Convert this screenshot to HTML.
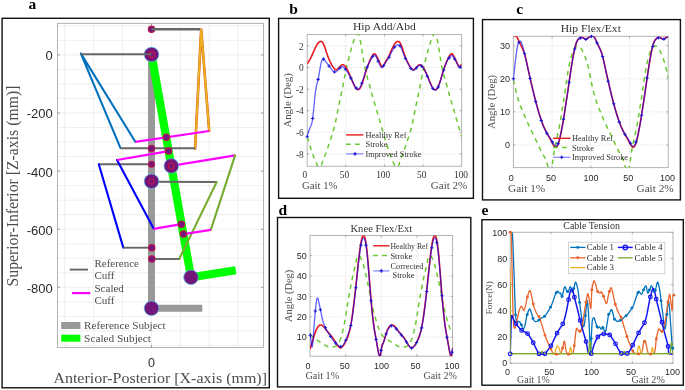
<!DOCTYPE html>
<html><head><meta charset="utf-8"><style>html,body{margin:0;padding:0;background:#fff;width:685px;height:390px;overflow:hidden}svg{display:block;will-change:transform}</style></head>
<body><svg width="685" height="390" viewBox="0 0 685 390"><rect x="2.1" y="18.3" width="267.2" height="369.5" fill="none" stroke="#111" stroke-width="1.4"/>
<rect x="278.6" y="18.4" width="194.79999999999995" height="179.9" fill="none" stroke="#111" stroke-width="1.4"/>
<rect x="482.5" y="19.6" width="197.89999999999998" height="180.3" fill="none" stroke="#111" stroke-width="1.4"/>
<rect x="277.5" y="217.5" width="193.3" height="169.39999999999998" fill="none" stroke="#111" stroke-width="1.4"/>
<rect x="481.9" y="219.7" width="201.39999999999998" height="165.5" fill="none" stroke="#111" stroke-width="1.4"/>
<text x="28.6" y="9.2" font-family='"Liberation Serif", serif' font-size="15.5" text-anchor="start" font-weight="bold" fill="#000">a</text>
<text x="289.2" y="13.8" font-family='"Liberation Serif", serif' font-size="15.5" text-anchor="start" font-weight="bold" fill="#000">b</text>
<text x="516.3" y="13.9" font-family='"Liberation Serif", serif' font-size="15.5" text-anchor="start" font-weight="bold" fill="#000">c</text>
<text x="278.4" y="215.4" font-family='"Liberation Serif", serif' font-size="15.5" text-anchor="start" font-weight="bold" fill="#000">d</text>
<text x="481.5" y="215.4" font-family='"Liberation Serif", serif' font-size="15.5" text-anchor="start" font-weight="bold" fill="#000">e</text>
<line x1="57.50" y1="25.85" x2="263.50" y2="25.85" stroke="#ebebeb" stroke-width="0.8"/>
<line x1="57.50" y1="40.38" x2="263.50" y2="40.38" stroke="#ebebeb" stroke-width="0.8"/>
<line x1="57.50" y1="54.90" x2="263.50" y2="54.90" stroke="#ebebeb" stroke-width="0.8"/>
<line x1="57.50" y1="69.42" x2="263.50" y2="69.42" stroke="#ebebeb" stroke-width="0.8"/>
<line x1="57.50" y1="83.95" x2="263.50" y2="83.95" stroke="#ebebeb" stroke-width="0.8"/>
<line x1="57.50" y1="98.47" x2="263.50" y2="98.47" stroke="#ebebeb" stroke-width="0.8"/>
<line x1="57.50" y1="113.00" x2="263.50" y2="113.00" stroke="#ebebeb" stroke-width="0.8"/>
<line x1="57.50" y1="127.53" x2="263.50" y2="127.53" stroke="#ebebeb" stroke-width="0.8"/>
<line x1="57.50" y1="142.05" x2="263.50" y2="142.05" stroke="#ebebeb" stroke-width="0.8"/>
<line x1="57.50" y1="156.57" x2="263.50" y2="156.57" stroke="#ebebeb" stroke-width="0.8"/>
<line x1="57.50" y1="171.10" x2="263.50" y2="171.10" stroke="#ebebeb" stroke-width="0.8"/>
<line x1="57.50" y1="185.62" x2="263.50" y2="185.62" stroke="#ebebeb" stroke-width="0.8"/>
<line x1="57.50" y1="200.15" x2="263.50" y2="200.15" stroke="#ebebeb" stroke-width="0.8"/>
<line x1="57.50" y1="214.67" x2="263.50" y2="214.67" stroke="#ebebeb" stroke-width="0.8"/>
<line x1="57.50" y1="229.20" x2="263.50" y2="229.20" stroke="#ebebeb" stroke-width="0.8"/>
<line x1="57.50" y1="243.72" x2="263.50" y2="243.72" stroke="#ebebeb" stroke-width="0.8"/>
<line x1="57.50" y1="258.25" x2="263.50" y2="258.25" stroke="#ebebeb" stroke-width="0.8"/>
<line x1="57.50" y1="272.77" x2="263.50" y2="272.77" stroke="#ebebeb" stroke-width="0.8"/>
<line x1="57.50" y1="287.30" x2="263.50" y2="287.30" stroke="#ebebeb" stroke-width="0.8"/>
<line x1="57.50" y1="301.82" x2="263.50" y2="301.82" stroke="#ebebeb" stroke-width="0.8"/>
<line x1="57.50" y1="316.35" x2="263.50" y2="316.35" stroke="#ebebeb" stroke-width="0.8"/>
<line x1="57.50" y1="330.87" x2="263.50" y2="330.87" stroke="#ebebeb" stroke-width="0.8"/>
<line x1="57.50" y1="345.40" x2="263.50" y2="345.40" stroke="#ebebeb" stroke-width="0.8"/>
<line x1="64.80" y1="23.40" x2="64.80" y2="347.50" stroke="#ebebeb" stroke-width="0.8"/>
<line x1="93.70" y1="23.40" x2="93.70" y2="347.50" stroke="#ebebeb" stroke-width="0.8"/>
<line x1="122.60" y1="23.40" x2="122.60" y2="347.50" stroke="#ebebeb" stroke-width="0.8"/>
<line x1="151.50" y1="23.40" x2="151.50" y2="347.50" stroke="#ebebeb" stroke-width="0.8"/>
<line x1="180.40" y1="23.40" x2="180.40" y2="347.50" stroke="#ebebeb" stroke-width="0.8"/>
<line x1="209.30" y1="23.40" x2="209.30" y2="347.50" stroke="#ebebeb" stroke-width="0.8"/>
<line x1="238.20" y1="23.40" x2="238.20" y2="347.50" stroke="#ebebeb" stroke-width="0.8"/>
<rect x="57.5" y="23.4" width="206.0" height="324.1" fill="none" stroke="#b4b4b4" stroke-width="1.0"/>
<line x1="57.50" y1="54.90" x2="60.00" y2="54.90" stroke="#888" stroke-width="0.8"/>
<line x1="263.50" y1="54.90" x2="261.00" y2="54.90" stroke="#888" stroke-width="0.8"/>
<text x="52.8" y="60.3" font-family='"Liberation Sans", sans-serif' font-size="13" text-anchor="end" font-weight="normal" fill="#2a2a2a">0</text>
<line x1="57.50" y1="113.00" x2="60.00" y2="113.00" stroke="#888" stroke-width="0.8"/>
<line x1="263.50" y1="113.00" x2="261.00" y2="113.00" stroke="#888" stroke-width="0.8"/>
<text x="52.8" y="118.4" font-family='"Liberation Sans", sans-serif' font-size="13" text-anchor="end" font-weight="normal" fill="#2a2a2a">-200</text>
<line x1="57.50" y1="171.10" x2="60.00" y2="171.10" stroke="#888" stroke-width="0.8"/>
<line x1="263.50" y1="171.10" x2="261.00" y2="171.10" stroke="#888" stroke-width="0.8"/>
<text x="52.8" y="176.5" font-family='"Liberation Sans", sans-serif' font-size="13" text-anchor="end" font-weight="normal" fill="#2a2a2a">-400</text>
<line x1="57.50" y1="229.20" x2="60.00" y2="229.20" stroke="#888" stroke-width="0.8"/>
<line x1="263.50" y1="229.20" x2="261.00" y2="229.20" stroke="#888" stroke-width="0.8"/>
<text x="52.8" y="234.6" font-family='"Liberation Sans", sans-serif' font-size="13" text-anchor="end" font-weight="normal" fill="#2a2a2a">-600</text>
<line x1="57.50" y1="287.30" x2="60.00" y2="287.30" stroke="#888" stroke-width="0.8"/>
<line x1="263.50" y1="287.30" x2="261.00" y2="287.30" stroke="#888" stroke-width="0.8"/>
<text x="52.8" y="292.69999999999993" font-family='"Liberation Sans", sans-serif' font-size="13" text-anchor="end" font-weight="normal" fill="#2a2a2a">-800</text>
<line x1="151.50" y1="23.40" x2="151.50" y2="25.90" stroke="#888" stroke-width="0.8"/>
<line x1="151.50" y1="347.50" x2="151.50" y2="345.00" stroke="#888" stroke-width="0.8"/>
<text x="151.5" y="366.5" font-family='"Liberation Sans", sans-serif' font-size="12.5" text-anchor="middle" font-weight="normal" fill="#2a2a2a">0</text>
<text x="53.4" y="382.6" font-family='"Liberation Serif", serif' font-size="15.5" text-anchor="start" font-weight="normal" fill="#4d4d4d" textLength="213.6" lengthAdjust="spacingAndGlyphs">Anterior-Posterior [X-axis (mm)]</text>
<text x="17.9" y="286.5" font-family='"Liberation Serif", serif' font-size="15.8" text-anchor="start" font-weight="normal" fill="#4d4d4d" transform="rotate(-90 17.9 286.5)" textLength="200.9" lengthAdjust="spacingAndGlyphs">Superior-Inferior [Z-axis (mm)]</text>
<line x1="345.80" y1="34.50" x2="345.80" y2="166.30" stroke="#d4d4d4" stroke-width="0.7" stroke-dasharray="1,1.3"/>
<line x1="384.40" y1="34.50" x2="384.40" y2="166.30" stroke="#d4d4d4" stroke-width="0.7" stroke-dasharray="1,1.3"/>
<line x1="423.00" y1="34.50" x2="423.00" y2="166.30" stroke="#d4d4d4" stroke-width="0.7" stroke-dasharray="1,1.3"/>
<line x1="307.20" y1="45.95" x2="461.60" y2="45.95" stroke="#d4d4d4" stroke-width="0.7" stroke-dasharray="1,1.3"/>
<line x1="307.20" y1="67.55" x2="461.60" y2="67.55" stroke="#d4d4d4" stroke-width="0.7" stroke-dasharray="1,1.3"/>
<line x1="307.20" y1="89.15" x2="461.60" y2="89.15" stroke="#d4d4d4" stroke-width="0.7" stroke-dasharray="1,1.3"/>
<line x1="307.20" y1="110.75" x2="461.60" y2="110.75" stroke="#d4d4d4" stroke-width="0.7" stroke-dasharray="1,1.3"/>
<line x1="307.20" y1="132.35" x2="461.60" y2="132.35" stroke="#d4d4d4" stroke-width="0.7" stroke-dasharray="1,1.3"/>
<line x1="307.20" y1="153.95" x2="461.60" y2="153.95" stroke="#d4d4d4" stroke-width="0.7" stroke-dasharray="1,1.3"/>
<rect x="307.2" y="34.5" width="154.40000000000003" height="131.8" fill="none" stroke="#b4b4b4" stroke-width="1.0"/>
<line x1="345.80" y1="166.30" x2="345.80" y2="164.50" stroke="#888" stroke-width="0.7"/>
<line x1="345.80" y1="34.50" x2="345.80" y2="36.30" stroke="#888" stroke-width="0.7"/>
<line x1="384.40" y1="166.30" x2="384.40" y2="164.50" stroke="#888" stroke-width="0.7"/>
<line x1="384.40" y1="34.50" x2="384.40" y2="36.30" stroke="#888" stroke-width="0.7"/>
<line x1="423.00" y1="166.30" x2="423.00" y2="164.50" stroke="#888" stroke-width="0.7"/>
<line x1="423.00" y1="34.50" x2="423.00" y2="36.30" stroke="#888" stroke-width="0.7"/>
<line x1="307.20" y1="45.95" x2="309.00" y2="45.95" stroke="#888" stroke-width="0.7"/>
<line x1="461.60" y1="45.95" x2="459.80" y2="45.95" stroke="#888" stroke-width="0.7"/>
<text x="303.8" y="49.65" font-family='"Liberation Serif", serif' font-size="9.4" text-anchor="end" font-weight="normal" fill="#333333">2</text>
<line x1="307.20" y1="67.55" x2="309.00" y2="67.55" stroke="#888" stroke-width="0.7"/>
<line x1="461.60" y1="67.55" x2="459.80" y2="67.55" stroke="#888" stroke-width="0.7"/>
<text x="303.8" y="71.25" font-family='"Liberation Serif", serif' font-size="9.4" text-anchor="end" font-weight="normal" fill="#333333">0</text>
<line x1="307.20" y1="89.15" x2="309.00" y2="89.15" stroke="#888" stroke-width="0.7"/>
<line x1="461.60" y1="89.15" x2="459.80" y2="89.15" stroke="#888" stroke-width="0.7"/>
<text x="303.8" y="92.85000000000001" font-family='"Liberation Serif", serif' font-size="9.4" text-anchor="end" font-weight="normal" fill="#333333">-2</text>
<line x1="307.20" y1="110.75" x2="309.00" y2="110.75" stroke="#888" stroke-width="0.7"/>
<line x1="461.60" y1="110.75" x2="459.80" y2="110.75" stroke="#888" stroke-width="0.7"/>
<text x="303.8" y="114.45" font-family='"Liberation Serif", serif' font-size="9.4" text-anchor="end" font-weight="normal" fill="#333333">-4</text>
<line x1="307.20" y1="132.35" x2="309.00" y2="132.35" stroke="#888" stroke-width="0.7"/>
<line x1="461.60" y1="132.35" x2="459.80" y2="132.35" stroke="#888" stroke-width="0.7"/>
<text x="303.8" y="136.05" font-family='"Liberation Serif", serif' font-size="9.4" text-anchor="end" font-weight="normal" fill="#333333">-6</text>
<line x1="307.20" y1="153.95" x2="309.00" y2="153.95" stroke="#888" stroke-width="0.7"/>
<line x1="461.60" y1="153.95" x2="459.80" y2="153.95" stroke="#888" stroke-width="0.7"/>
<text x="303.8" y="157.64999999999998" font-family='"Liberation Serif", serif' font-size="9.4" text-anchor="end" font-weight="normal" fill="#333333">-8</text>
<text x="304.9" y="177.9" font-family='"Liberation Serif", serif' font-size="9.4" text-anchor="middle" font-weight="normal" fill="#333333">0</text>
<text x="344.5" y="177.9" font-family='"Liberation Serif", serif' font-size="9.4" text-anchor="middle" font-weight="normal" fill="#333333">50</text>
<text x="383.2" y="177.9" font-family='"Liberation Serif", serif' font-size="9.4" text-anchor="middle" font-weight="normal" fill="#333333">100</text>
<text x="421.7" y="177.9" font-family='"Liberation Serif", serif' font-size="9.4" text-anchor="middle" font-weight="normal" fill="#333333">50</text>
<text x="461.0" y="177.9" font-family='"Liberation Serif", serif' font-size="9.4" text-anchor="middle" font-weight="normal" fill="#333333">100</text>
<text x="384.4" y="30.1" font-family='"Liberation Serif", serif' font-size="10.5" text-anchor="middle" font-weight="normal" fill="#333333" textLength="62.8" lengthAdjust="spacingAndGlyphs">Hip Add/Abd</text>
<text x="290.9" y="100.4" font-family='"Liberation Serif", serif' font-size="10.6" text-anchor="middle" font-weight="normal" fill="#4d4d4d" transform="rotate(-90 290.9 100.4)" textLength="54.4" lengthAdjust="spacingAndGlyphs">Angle (Deg)</text>
<text x="302.0" y="189.2" font-family='"Liberation Serif", serif' font-size="10.8" text-anchor="start" font-weight="normal" fill="#4d4d4d" textLength="35.6" lengthAdjust="spacingAndGlyphs">Gait 1%</text>
<text x="430.8" y="189.2" font-family='"Liberation Serif", serif' font-size="10.8" text-anchor="start" font-weight="normal" fill="#4d4d4d" textLength="36.4" lengthAdjust="spacingAndGlyphs">Gait 2%</text>
<line x1="552.10" y1="36.30" x2="552.10" y2="167.60" stroke="#d4d4d4" stroke-width="0.7" stroke-dasharray="1,1.3"/>
<line x1="590.80" y1="36.30" x2="590.80" y2="167.60" stroke="#d4d4d4" stroke-width="0.7" stroke-dasharray="1,1.3"/>
<line x1="629.50" y1="36.30" x2="629.50" y2="167.60" stroke="#d4d4d4" stroke-width="0.7" stroke-dasharray="1,1.3"/>
<line x1="513.40" y1="45.70" x2="668.20" y2="45.70" stroke="#d4d4d4" stroke-width="0.7" stroke-dasharray="1,1.3"/>
<line x1="513.40" y1="78.80" x2="668.20" y2="78.80" stroke="#d4d4d4" stroke-width="0.7" stroke-dasharray="1,1.3"/>
<line x1="513.40" y1="111.90" x2="668.20" y2="111.90" stroke="#d4d4d4" stroke-width="0.7" stroke-dasharray="1,1.3"/>
<line x1="513.40" y1="145.00" x2="668.20" y2="145.00" stroke="#d4d4d4" stroke-width="0.7" stroke-dasharray="1,1.3"/>
<rect x="513.4" y="36.3" width="154.80000000000007" height="131.3" fill="none" stroke="#b4b4b4" stroke-width="1.0"/>
<line x1="552.10" y1="167.60" x2="552.10" y2="165.80" stroke="#888" stroke-width="0.7"/>
<line x1="552.10" y1="36.30" x2="552.10" y2="38.10" stroke="#888" stroke-width="0.7"/>
<line x1="590.80" y1="167.60" x2="590.80" y2="165.80" stroke="#888" stroke-width="0.7"/>
<line x1="590.80" y1="36.30" x2="590.80" y2="38.10" stroke="#888" stroke-width="0.7"/>
<line x1="629.50" y1="167.60" x2="629.50" y2="165.80" stroke="#888" stroke-width="0.7"/>
<line x1="629.50" y1="36.30" x2="629.50" y2="38.10" stroke="#888" stroke-width="0.7"/>
<line x1="513.40" y1="45.70" x2="515.20" y2="45.70" stroke="#888" stroke-width="0.7"/>
<line x1="668.20" y1="45.70" x2="666.40" y2="45.70" stroke="#888" stroke-width="0.7"/>
<text x="509.9" y="48.900000000000006" font-family='"Liberation Sans", sans-serif' font-size="9.0" text-anchor="end" font-weight="normal" fill="#2a2a2a">30</text>
<line x1="513.40" y1="78.80" x2="515.20" y2="78.80" stroke="#888" stroke-width="0.7"/>
<line x1="668.20" y1="78.80" x2="666.40" y2="78.80" stroke="#888" stroke-width="0.7"/>
<text x="509.9" y="82.0" font-family='"Liberation Sans", sans-serif' font-size="9.0" text-anchor="end" font-weight="normal" fill="#2a2a2a">20</text>
<line x1="513.40" y1="111.90" x2="515.20" y2="111.90" stroke="#888" stroke-width="0.7"/>
<line x1="668.20" y1="111.90" x2="666.40" y2="111.90" stroke="#888" stroke-width="0.7"/>
<text x="509.9" y="115.10000000000001" font-family='"Liberation Sans", sans-serif' font-size="9.0" text-anchor="end" font-weight="normal" fill="#2a2a2a">10</text>
<line x1="513.40" y1="145.00" x2="515.20" y2="145.00" stroke="#888" stroke-width="0.7"/>
<line x1="668.20" y1="145.00" x2="666.40" y2="145.00" stroke="#888" stroke-width="0.7"/>
<text x="509.9" y="148.2" font-family='"Liberation Sans", sans-serif' font-size="9.0" text-anchor="end" font-weight="normal" fill="#2a2a2a">0</text>
<text x="511.2" y="180.6" font-family='"Liberation Sans", sans-serif' font-size="9.0" text-anchor="middle" font-weight="normal" fill="#2a2a2a">0</text>
<text x="550.9" y="180.6" font-family='"Liberation Sans", sans-serif' font-size="9.0" text-anchor="middle" font-weight="normal" fill="#2a2a2a">50</text>
<text x="591.1" y="180.6" font-family='"Liberation Sans", sans-serif' font-size="9.0" text-anchor="middle" font-weight="normal" fill="#2a2a2a">100</text>
<text x="628.3" y="180.6" font-family='"Liberation Sans", sans-serif' font-size="9.0" text-anchor="middle" font-weight="normal" fill="#2a2a2a">50</text>
<text x="667.5" y="180.6" font-family='"Liberation Sans", sans-serif' font-size="9.0" text-anchor="middle" font-weight="normal" fill="#2a2a2a">100</text>
<text x="590.8" y="31.8" font-family='"Liberation Serif", serif' font-size="10.5" text-anchor="middle" font-weight="normal" fill="#333333" textLength="60.2" lengthAdjust="spacingAndGlyphs">Hip Flex/Ext</text>
<text x="494.9" y="101.94999999999999" font-family='"Liberation Serif", serif' font-size="10.6" text-anchor="middle" font-weight="normal" fill="#4d4d4d" transform="rotate(-90 494.9 101.94999999999999)" textLength="54.3" lengthAdjust="spacingAndGlyphs">Angle (Deg)</text>
<text x="508.0" y="191.6" font-family='"Liberation Serif", serif' font-size="10.8" text-anchor="start" font-weight="normal" fill="#4d4d4d" textLength="37.2" lengthAdjust="spacingAndGlyphs">Gait 1%</text>
<text x="636.5" y="191.6" font-family='"Liberation Serif", serif' font-size="10.8" text-anchor="start" font-weight="normal" fill="#4d4d4d" textLength="37.2" lengthAdjust="spacingAndGlyphs">Gait 2%</text>
<line x1="345.65" y1="235.50" x2="345.65" y2="356.20" stroke="#d4d4d4" stroke-width="0.7" stroke-dasharray="1,1.3"/>
<line x1="381.30" y1="235.50" x2="381.30" y2="356.20" stroke="#d4d4d4" stroke-width="0.7" stroke-dasharray="1,1.3"/>
<line x1="416.95" y1="235.50" x2="416.95" y2="356.20" stroke="#d4d4d4" stroke-width="0.7" stroke-dasharray="1,1.3"/>
<line x1="310.00" y1="255.60" x2="452.60" y2="255.60" stroke="#d4d4d4" stroke-width="0.7" stroke-dasharray="1,1.3"/>
<line x1="310.00" y1="276.00" x2="452.60" y2="276.00" stroke="#d4d4d4" stroke-width="0.7" stroke-dasharray="1,1.3"/>
<line x1="310.00" y1="296.40" x2="452.60" y2="296.40" stroke="#d4d4d4" stroke-width="0.7" stroke-dasharray="1,1.3"/>
<line x1="310.00" y1="316.80" x2="452.60" y2="316.80" stroke="#d4d4d4" stroke-width="0.7" stroke-dasharray="1,1.3"/>
<line x1="310.00" y1="337.20" x2="452.60" y2="337.20" stroke="#d4d4d4" stroke-width="0.7" stroke-dasharray="1,1.3"/>
<rect x="310.0" y="235.5" width="142.60000000000002" height="120.69999999999999" fill="none" stroke="#b4b4b4" stroke-width="1.0"/>
<line x1="345.65" y1="356.20" x2="345.65" y2="354.40" stroke="#888" stroke-width="0.7"/>
<line x1="345.65" y1="235.50" x2="345.65" y2="237.30" stroke="#888" stroke-width="0.7"/>
<line x1="381.30" y1="356.20" x2="381.30" y2="354.40" stroke="#888" stroke-width="0.7"/>
<line x1="381.30" y1="235.50" x2="381.30" y2="237.30" stroke="#888" stroke-width="0.7"/>
<line x1="416.95" y1="356.20" x2="416.95" y2="354.40" stroke="#888" stroke-width="0.7"/>
<line x1="416.95" y1="235.50" x2="416.95" y2="237.30" stroke="#888" stroke-width="0.7"/>
<line x1="310.00" y1="255.60" x2="311.80" y2="255.60" stroke="#888" stroke-width="0.7"/>
<line x1="452.60" y1="255.60" x2="450.80" y2="255.60" stroke="#888" stroke-width="0.7"/>
<text x="306.8" y="258.8" font-family='"Liberation Sans", sans-serif' font-size="9.0" text-anchor="end" font-weight="normal" fill="#2a2a2a">50</text>
<line x1="310.00" y1="276.00" x2="311.80" y2="276.00" stroke="#888" stroke-width="0.7"/>
<line x1="452.60" y1="276.00" x2="450.80" y2="276.00" stroke="#888" stroke-width="0.7"/>
<text x="306.8" y="279.2" font-family='"Liberation Sans", sans-serif' font-size="9.0" text-anchor="end" font-weight="normal" fill="#2a2a2a">40</text>
<line x1="310.00" y1="296.40" x2="311.80" y2="296.40" stroke="#888" stroke-width="0.7"/>
<line x1="452.60" y1="296.40" x2="450.80" y2="296.40" stroke="#888" stroke-width="0.7"/>
<text x="306.8" y="299.6" font-family='"Liberation Sans", sans-serif' font-size="9.0" text-anchor="end" font-weight="normal" fill="#2a2a2a">30</text>
<line x1="310.00" y1="316.80" x2="311.80" y2="316.80" stroke="#888" stroke-width="0.7"/>
<line x1="452.60" y1="316.80" x2="450.80" y2="316.80" stroke="#888" stroke-width="0.7"/>
<text x="306.8" y="320.0" font-family='"Liberation Sans", sans-serif' font-size="9.0" text-anchor="end" font-weight="normal" fill="#2a2a2a">20</text>
<line x1="310.00" y1="337.20" x2="311.80" y2="337.20" stroke="#888" stroke-width="0.7"/>
<line x1="452.60" y1="337.20" x2="450.80" y2="337.20" stroke="#888" stroke-width="0.7"/>
<text x="306.8" y="340.40000000000003" font-family='"Liberation Sans", sans-serif' font-size="9.0" text-anchor="end" font-weight="normal" fill="#2a2a2a">10</text>
<text x="307.9" y="369.3" font-family='"Liberation Sans", sans-serif' font-size="9.0" text-anchor="middle" font-weight="normal" fill="#2a2a2a">0</text>
<text x="344.7" y="369.3" font-family='"Liberation Sans", sans-serif' font-size="9.0" text-anchor="middle" font-weight="normal" fill="#2a2a2a">50</text>
<text x="381.4" y="369.3" font-family='"Liberation Sans", sans-serif' font-size="9.0" text-anchor="middle" font-weight="normal" fill="#2a2a2a">100</text>
<text x="415.4" y="369.3" font-family='"Liberation Sans", sans-serif' font-size="9.0" text-anchor="middle" font-weight="normal" fill="#2a2a2a">50</text>
<text x="451.9" y="369.3" font-family='"Liberation Sans", sans-serif' font-size="9.0" text-anchor="middle" font-weight="normal" fill="#2a2a2a">100</text>
<text x="381.3" y="231.8" font-family='"Liberation Serif", serif' font-size="10.5" text-anchor="middle" font-weight="normal" fill="#333333" textLength="61.8" lengthAdjust="spacingAndGlyphs">Knee Flex/Ext</text>
<text x="292.2" y="295.85" font-family='"Liberation Serif", serif' font-size="10.6" text-anchor="middle" font-weight="normal" fill="#4d4d4d" transform="rotate(-90 292.2 295.85)" textLength="52.2" lengthAdjust="spacingAndGlyphs">Angle (Deg)</text>
<text x="305.5" y="378.9" font-family='"Liberation Serif", serif' font-size="10.0" text-anchor="start" font-weight="normal" fill="#4d4d4d" textLength="33.7" lengthAdjust="spacingAndGlyphs">Gait 1%</text>
<text x="423.6" y="378.9" font-family='"Liberation Serif", serif' font-size="10.0" text-anchor="start" font-weight="normal" fill="#4d4d4d" textLength="33.2" lengthAdjust="spacingAndGlyphs">Gait 2%</text>
<line x1="550.90" y1="232.30" x2="550.90" y2="363.20" stroke="#d4d4d4" stroke-width="0.7" stroke-dasharray="1,1.3"/>
<line x1="591.60" y1="232.30" x2="591.60" y2="363.20" stroke="#d4d4d4" stroke-width="0.7" stroke-dasharray="1,1.3"/>
<line x1="632.30" y1="232.30" x2="632.30" y2="363.20" stroke="#d4d4d4" stroke-width="0.7" stroke-dasharray="1,1.3"/>
<line x1="510.20" y1="258.48" x2="673.00" y2="258.48" stroke="#d4d4d4" stroke-width="0.7" stroke-dasharray="1,1.3"/>
<line x1="510.20" y1="284.66" x2="673.00" y2="284.66" stroke="#d4d4d4" stroke-width="0.7" stroke-dasharray="1,1.3"/>
<line x1="510.20" y1="310.84" x2="673.00" y2="310.84" stroke="#d4d4d4" stroke-width="0.7" stroke-dasharray="1,1.3"/>
<line x1="510.20" y1="337.02" x2="673.00" y2="337.02" stroke="#d4d4d4" stroke-width="0.7" stroke-dasharray="1,1.3"/>
<rect x="510.2" y="232.3" width="162.8" height="130.89999999999998" fill="none" stroke="#b4b4b4" stroke-width="1.0"/>
<line x1="550.90" y1="363.20" x2="550.90" y2="361.40" stroke="#888" stroke-width="0.7"/>
<line x1="550.90" y1="232.30" x2="550.90" y2="234.10" stroke="#888" stroke-width="0.7"/>
<line x1="591.60" y1="363.20" x2="591.60" y2="361.40" stroke="#888" stroke-width="0.7"/>
<line x1="591.60" y1="232.30" x2="591.60" y2="234.10" stroke="#888" stroke-width="0.7"/>
<line x1="632.30" y1="363.20" x2="632.30" y2="361.40" stroke="#888" stroke-width="0.7"/>
<line x1="632.30" y1="232.30" x2="632.30" y2="234.10" stroke="#888" stroke-width="0.7"/>
<line x1="510.20" y1="232.30" x2="512.00" y2="232.30" stroke="#888" stroke-width="0.7"/>
<line x1="673.00" y1="232.30" x2="671.20" y2="232.30" stroke="#888" stroke-width="0.7"/>
<text x="507.2" y="235.49999999999997" font-family='"Liberation Sans", sans-serif' font-size="9.0" text-anchor="end" font-weight="normal" fill="#2a2a2a">100</text>
<line x1="510.20" y1="258.48" x2="512.00" y2="258.48" stroke="#888" stroke-width="0.7"/>
<line x1="673.00" y1="258.48" x2="671.20" y2="258.48" stroke="#888" stroke-width="0.7"/>
<text x="507.2" y="261.68" font-family='"Liberation Sans", sans-serif' font-size="9.0" text-anchor="end" font-weight="normal" fill="#2a2a2a">80</text>
<line x1="510.20" y1="284.66" x2="512.00" y2="284.66" stroke="#888" stroke-width="0.7"/>
<line x1="673.00" y1="284.66" x2="671.20" y2="284.66" stroke="#888" stroke-width="0.7"/>
<text x="507.2" y="287.85999999999996" font-family='"Liberation Sans", sans-serif' font-size="9.0" text-anchor="end" font-weight="normal" fill="#2a2a2a">60</text>
<line x1="510.20" y1="310.84" x2="512.00" y2="310.84" stroke="#888" stroke-width="0.7"/>
<line x1="673.00" y1="310.84" x2="671.20" y2="310.84" stroke="#888" stroke-width="0.7"/>
<text x="507.2" y="314.03999999999996" font-family='"Liberation Sans", sans-serif' font-size="9.0" text-anchor="end" font-weight="normal" fill="#2a2a2a">40</text>
<line x1="510.20" y1="337.02" x2="512.00" y2="337.02" stroke="#888" stroke-width="0.7"/>
<line x1="673.00" y1="337.02" x2="671.20" y2="337.02" stroke="#888" stroke-width="0.7"/>
<text x="507.2" y="340.21999999999997" font-family='"Liberation Sans", sans-serif' font-size="9.0" text-anchor="end" font-weight="normal" fill="#2a2a2a">20</text>
<line x1="510.20" y1="363.20" x2="512.00" y2="363.20" stroke="#888" stroke-width="0.7"/>
<line x1="673.00" y1="363.20" x2="671.20" y2="363.20" stroke="#888" stroke-width="0.7"/>
<text x="507.2" y="366.4" font-family='"Liberation Sans", sans-serif' font-size="9.0" text-anchor="end" font-weight="normal" fill="#2a2a2a">0</text>
<text x="507.6" y="374.8" font-family='"Liberation Sans", sans-serif' font-size="9.0" text-anchor="middle" font-weight="normal" fill="#2a2a2a">0</text>
<text x="549.3" y="374.8" font-family='"Liberation Sans", sans-serif' font-size="9.0" text-anchor="middle" font-weight="normal" fill="#2a2a2a">50</text>
<text x="591.5" y="374.8" font-family='"Liberation Sans", sans-serif' font-size="9.0" text-anchor="middle" font-weight="normal" fill="#2a2a2a">100</text>
<text x="631.0" y="374.8" font-family='"Liberation Sans", sans-serif' font-size="9.0" text-anchor="middle" font-weight="normal" fill="#2a2a2a">50</text>
<text x="672.5" y="374.8" font-family='"Liberation Sans", sans-serif' font-size="9.0" text-anchor="middle" font-weight="normal" fill="#2a2a2a">100</text>
<text x="591.6" y="228.8" font-family='"Liberation Serif", serif' font-size="10.0" text-anchor="middle" font-weight="normal" fill="#333333" textLength="56.5" lengthAdjust="spacingAndGlyphs">Cable Tension</text>
<text x="492.4" y="297.75" font-family='"Liberation Serif", serif' font-size="9.2" text-anchor="middle" font-weight="normal" fill="#4d4d4d" transform="rotate(-90 492.4 297.75)" textLength="33.1" lengthAdjust="spacingAndGlyphs">Force(N)</text>
<text x="517.1" y="382.7" font-family='"Liberation Serif", serif' font-size="9.8" text-anchor="start" font-weight="normal" fill="#4d4d4d" textLength="32.7" lengthAdjust="spacingAndGlyphs">Gait 1%</text>
<text x="631.5" y="382.7" font-family='"Liberation Serif", serif' font-size="9.8" text-anchor="start" font-weight="normal" fill="#4d4d4d" textLength="33.3" lengthAdjust="spacingAndGlyphs">Gait 2%</text>
<path d="M151.5,54.5 L151.5,308.3 L202.3,308.3" fill="none" stroke="#999999" stroke-width="7" stroke-linejoin="miter"/>
<path d="M151.5,54.5 L191,277.3 L235.8,270.2" fill="none" stroke="#00ff00" stroke-width="8.2" stroke-linejoin="miter"/>
<path d="M120.40,147.80 L80.80,53.40 L135.30,141.80" fill="none" stroke="#0072bd" stroke-width="2.1" stroke-linejoin="round" stroke-linecap="round"/>
<path d="M195.10,148.60 L201.20,29.60 L209.20,131.00" fill="none" stroke="#d95319" stroke-width="2.6" stroke-linejoin="round" stroke-linecap="round"/>
<path d="M195.10,148.60 L201.20,29.60 L209.20,131.00" fill="none" stroke="#edb120" stroke-width="1.9" stroke-linejoin="round" stroke-linecap="round"/>
<line x1="120.40" y1="148.20" x2="195.10" y2="148.20" stroke="#666666" stroke-width="1.9"/>
<line x1="135.30" y1="141.80" x2="209.20" y2="131.00" stroke="#ff00ff" stroke-width="2.2"/>
<line x1="98.80" y1="164.20" x2="151.50" y2="164.20" stroke="#666666" stroke-width="1.9"/>
<path d="M98.80,164.20 L123.30,247.60" fill="none" stroke="#0000ff" stroke-width="2.1" stroke-linejoin="round" stroke-linecap="round"/>
<path d="M117.00,160.00 L153.60,228.60" fill="none" stroke="#0000ff" stroke-width="2.1" stroke-linejoin="round" stroke-linecap="round"/>
<line x1="117.00" y1="160.00" x2="168.60" y2="151.10" stroke="#ff00ff" stroke-width="2.2"/>
<line x1="123.30" y1="247.70" x2="151.80" y2="247.70" stroke="#666666" stroke-width="1.9"/>
<line x1="153.60" y1="228.80" x2="181.40" y2="224.20" stroke="#ff00ff" stroke-width="2.2"/>
<line x1="151.50" y1="181.70" x2="216.70" y2="182.00" stroke="#666666" stroke-width="1.9"/>
<line x1="171.30" y1="165.90" x2="235.10" y2="155.40" stroke="#ff00ff" stroke-width="2.2"/>
<path d="M235.10,155.40 L210.80,229.80" fill="none" stroke="#77ac30" stroke-width="2.1" stroke-linejoin="round" stroke-linecap="round"/>
<path d="M216.70,182.00 L179.20,259.00" fill="none" stroke="#77ac30" stroke-width="2.1" stroke-linejoin="round" stroke-linecap="round"/>
<line x1="151.80" y1="259.00" x2="179.20" y2="259.00" stroke="#666666" stroke-width="1.9"/>
<line x1="183.40" y1="234.10" x2="210.80" y2="229.80" stroke="#ff00ff" stroke-width="2.2"/>
<circle cx="151.5" cy="54.5" r="7.3" fill="#72167a" stroke="#4dbeee" stroke-width="0.7"/>
<circle cx="151.5" cy="181.3" r="7.3" fill="#72167a" stroke="#4dbeee" stroke-width="0.7"/>
<circle cx="151.5" cy="308.3" r="7.3" fill="#72167a" stroke="#4dbeee" stroke-width="0.7"/>
<circle cx="171.3" cy="165.9" r="7.3" fill="#72167a" stroke="#4dbeee" stroke-width="0.7"/>
<circle cx="191.0" cy="277.3" r="7.3" fill="#72167a" stroke="#4dbeee" stroke-width="0.7"/>
<circle cx="151.5" cy="29.2" r="3.2" fill="#72167a" stroke="#c0144a" stroke-width="1.1"/>
<circle cx="151.5" cy="54.5" r="2.9" fill="#72167a" stroke="#c0144a" stroke-width="1.1"/>
<circle cx="166.4" cy="137.2" r="3.2" fill="#72167a" stroke="#c0144a" stroke-width="1.1"/>
<circle cx="151.5" cy="148.4" r="3.2" fill="#72167a" stroke="#c0144a" stroke-width="1.1"/>
<circle cx="168.6" cy="151.1" r="3.2" fill="#72167a" stroke="#c0144a" stroke-width="1.1"/>
<circle cx="151.5" cy="164.2" r="3.0" fill="#72167a" stroke="#c0144a" stroke-width="1.1"/>
<circle cx="171.3" cy="165.9" r="2.8" fill="#72167a" stroke="#c0144a" stroke-width="1.1"/>
<circle cx="151.5" cy="181.3" r="2.6" fill="#72167a" stroke="#c0144a" stroke-width="1.1"/>
<circle cx="181.4" cy="224.2" r="3.2" fill="#72167a" stroke="#c0144a" stroke-width="1.1"/>
<circle cx="183.4" cy="234.1" r="3.2" fill="#72167a" stroke="#c0144a" stroke-width="1.1"/>
<circle cx="151.8" cy="247.7" r="3.2" fill="#72167a" stroke="#c0144a" stroke-width="1.1"/>
<circle cx="151.8" cy="259.0" r="3.2" fill="#72167a" stroke="#c0144a" stroke-width="1.1"/>
<line x1="80.80" y1="54.20" x2="151.50" y2="54.20" stroke="#666666" stroke-width="1.9"/>
<line x1="151.50" y1="29.20" x2="200.00" y2="29.20" stroke="#666666" stroke-width="2.4"/>
<line x1="69.70" y1="269.60" x2="88.00" y2="269.60" stroke="#666666" stroke-width="1.9"/>
<text x="94.5" y="267.4" font-family='"Liberation Serif", serif' font-size="11.0" text-anchor="start" font-weight="normal" fill="#4d4d4d" textLength="44.4" lengthAdjust="spacingAndGlyphs">Reference</text>
<text x="94.5" y="279.4" font-family='"Liberation Serif", serif' font-size="11.0" text-anchor="start" font-weight="normal" fill="#4d4d4d">Cuff</text>
<line x1="71.90" y1="293.10" x2="90.30" y2="293.10" stroke="#ff00ff" stroke-width="2.2"/>
<text x="94.5" y="291.6" font-family='"Liberation Serif", serif' font-size="11.0" text-anchor="start" font-weight="normal" fill="#4d4d4d">Scaled</text>
<text x="94.5" y="303.6" font-family='"Liberation Serif", serif' font-size="11.0" text-anchor="start" font-weight="normal" fill="#4d4d4d">Cuff</text>
<rect x="61.2" y="322" width="19.2" height="7" fill="#999999"/>
<text x="84.1" y="328.7" font-family='"Liberation Serif", serif' font-size="11.0" text-anchor="start" font-weight="normal" fill="#4d4d4d" textLength="81.6" lengthAdjust="spacingAndGlyphs">Reference Subject</text>
<rect x="61.2" y="334.7" width="19.2" height="7" fill="#00ff00"/>
<text x="84.1" y="341.6" font-family='"Liberation Serif", serif' font-size="11.0" text-anchor="start" font-weight="normal" fill="#4d4d4d" textLength="66.9" lengthAdjust="spacingAndGlyphs">Scaled Subject</text>
<clipPath id="cb"><rect x="307.2" y="34.5" width="154.40000000000003" height="131.8"/></clipPath>
<path d="M307.20,136.99 L307.59,138.19 L307.97,139.39 L308.36,140.59 L308.74,141.80 L309.13,143.01 L309.52,144.23 L309.90,145.46 L310.29,146.69 L310.67,147.93 L311.06,149.16 L311.45,150.38 L311.83,151.59 L312.22,152.78 L312.60,153.95 L312.99,155.09 L313.38,156.20 L313.76,157.26 L314.15,158.28 L314.53,159.24 L314.92,160.14 L315.31,160.97 L315.69,161.74 L316.08,162.48 L316.46,163.26 L316.85,164.13 L317.24,165.15 L317.62,166.37 L318.01,167.80 L318.39,169.30 L318.78,170.68 L319.17,171.74 L319.55,172.30 L319.94,172.16 L320.32,171.31 L320.71,169.92 L321.10,168.17 L321.48,166.26 L321.87,164.37 L322.25,162.70 L322.64,161.28 L323.03,160.07 L323.41,159.03 L323.80,158.11 L324.18,157.26 L324.57,156.43 L324.96,155.57 L325.34,154.65 L325.73,153.66 L326.11,152.61 L326.50,151.53 L326.89,150.40 L327.27,149.26 L327.66,148.10 L328.04,146.93 L328.43,145.77 L328.82,144.61 L329.20,143.46 L329.59,142.32 L329.97,141.17 L330.36,140.03 L330.75,138.89 L331.13,137.75 L331.52,136.61 L331.90,135.46 L332.29,134.28 L332.68,133.06 L333.06,131.80 L333.45,130.47 L333.83,129.06 L334.22,127.57 L334.61,125.98 L334.99,124.30 L335.38,122.53 L335.76,120.70 L336.15,118.81 L336.54,116.89 L336.92,114.95 L337.31,113.00 L337.69,111.05 L338.08,109.13 L338.47,107.24 L338.85,105.38 L339.24,103.55 L339.62,101.72 L340.01,99.91 L340.40,98.09 L340.78,96.26 L341.17,94.42 L341.55,92.55 L341.94,90.66 L342.33,88.74 L342.71,86.80 L343.10,84.84 L343.48,82.86 L343.87,80.88 L344.26,78.89 L344.64,76.90 L345.03,74.92 L345.41,72.96 L345.80,71.04 L346.19,69.16 L346.57,67.34 L346.96,65.59 L347.34,63.91 L347.73,62.30 L348.12,60.73 L348.50,59.21 L348.89,57.70 L349.27,56.21 L349.66,54.72 L350.05,53.24 L350.43,51.77 L350.82,50.33 L351.20,48.93 L351.59,47.57 L351.98,46.27 L352.36,45.02 L352.75,43.82 L353.13,42.66 L353.52,41.54 L353.91,40.46 L354.29,39.41 L354.68,38.39 L355.06,37.40 L355.45,36.46 L355.84,35.60 L356.22,34.87 L356.61,34.29 L356.99,33.88 L357.38,33.70 L357.77,33.75 L358.15,34.09 L358.54,34.71 L358.92,35.59 L359.31,36.74 L359.70,38.14 L360.08,39.77 L360.47,41.63 L360.85,43.70 L361.24,45.93 L361.63,48.30 L362.01,50.76 L362.40,53.27 L362.78,55.79 L363.17,58.28 L363.56,60.70 L363.94,63.00 L364.33,65.15 L364.71,67.13 L365.10,68.96 L365.49,70.66 L365.87,72.24 L366.26,73.74 L366.64,75.16 L367.03,76.53 L367.42,77.86 L367.80,79.18 L368.19,80.51 L368.57,81.86 L368.96,83.23 L369.35,84.61 L369.73,86.01 L370.12,87.42 L370.50,88.84 L370.89,90.26 L371.28,91.67 L371.66,93.09 L372.05,94.49 L372.43,95.88 L372.82,97.26 L373.21,98.62 L373.59,99.96 L373.98,101.29 L374.36,102.60 L374.75,103.91 L375.14,105.20 L375.52,106.49 L375.91,107.78 L376.29,109.06 L376.68,110.34 L377.07,111.63 L377.45,112.91 L377.84,114.20 L378.22,115.49 L378.61,116.79 L379.00,118.10 L379.38,119.41 L379.77,120.73 L380.15,122.05 L380.54,123.39 L380.93,124.73 L381.31,126.08 L381.70,127.44 L382.08,128.81 L382.47,130.19 L382.86,131.58 L383.24,132.97 L383.63,134.34 L384.01,135.69 L384.40,136.99 L384.79,138.26 L385.17,139.48 L385.56,140.68 L385.94,141.86 L386.33,143.04 L386.72,144.23 L387.10,145.44 L387.49,146.66 L387.87,147.89 L388.26,149.13 L388.65,150.36 L389.03,151.57 L389.42,152.77 L389.80,153.95 L390.19,155.10 L390.58,156.20 L390.96,157.27 L391.35,158.28 L391.73,159.24 L392.12,160.14 L392.51,160.97 L392.89,161.74 L393.28,162.48 L393.66,163.26 L394.05,164.13 L394.44,165.15 L394.82,166.37 L395.21,167.80 L395.59,169.30 L395.98,170.68 L396.37,171.74 L396.75,172.30 L397.14,172.16 L397.52,171.31 L397.91,169.92 L398.30,168.17 L398.68,166.26 L399.07,164.37 L399.45,162.70 L399.84,161.28 L400.23,160.07 L400.61,159.03 L401.00,158.11 L401.38,157.26 L401.77,156.43 L402.16,155.57 L402.54,154.65 L402.93,153.66 L403.31,152.61 L403.70,151.53 L404.09,150.40 L404.47,149.26 L404.86,148.10 L405.24,146.93 L405.63,145.77 L406.02,144.61 L406.40,143.46 L406.79,142.32 L407.17,141.17 L407.56,140.03 L407.95,138.89 L408.33,137.75 L408.72,136.61 L409.10,135.46 L409.49,134.28 L409.88,133.06 L410.26,131.80 L410.65,130.47 L411.03,129.06 L411.42,127.57 L411.81,125.98 L412.19,124.30 L412.58,122.53 L412.96,120.70 L413.35,118.81 L413.74,116.89 L414.12,114.95 L414.51,113.00 L414.89,111.05 L415.28,109.13 L415.67,107.24 L416.05,105.38 L416.44,103.55 L416.82,101.72 L417.21,99.91 L417.60,98.09 L417.98,96.26 L418.37,94.42 L418.75,92.55 L419.14,90.66 L419.53,88.74 L419.91,86.80 L420.30,84.84 L420.68,82.86 L421.07,80.88 L421.46,78.89 L421.84,76.90 L422.23,74.92 L422.61,72.96 L423.00,71.04 L423.39,69.16 L423.77,67.34 L424.16,65.59 L424.54,63.91 L424.93,62.30 L425.32,60.73 L425.70,59.21 L426.09,57.70 L426.47,56.21 L426.86,54.72 L427.25,53.24 L427.63,51.77 L428.02,50.33 L428.40,48.93 L428.79,47.57 L429.18,46.27 L429.56,45.02 L429.95,43.82 L430.33,42.66 L430.72,41.54 L431.11,40.46 L431.49,39.41 L431.88,38.39 L432.26,37.40 L432.65,36.46 L433.04,35.60 L433.42,34.87 L433.81,34.29 L434.19,33.88 L434.58,33.70 L434.97,33.75 L435.35,34.09 L435.74,34.71 L436.12,35.59 L436.51,36.74 L436.90,38.14 L437.28,39.77 L437.67,41.63 L438.05,43.70 L438.44,45.93 L438.83,48.30 L439.21,50.76 L439.60,53.27 L439.98,55.79 L440.37,58.28 L440.76,60.70 L441.14,63.00 L441.53,65.15 L441.91,67.13 L442.30,68.96 L442.69,70.66 L443.07,72.24 L443.46,73.74 L443.84,75.16 L444.23,76.53 L444.62,77.86 L445.00,79.18 L445.39,80.51 L445.77,81.86 L446.16,83.23 L446.55,84.62 L446.93,86.02 L447.32,87.43 L447.70,88.85 L448.09,90.27 L448.48,91.68 L448.86,93.10 L449.25,94.50 L449.63,95.89 L450.02,97.26 L450.41,98.61 L450.79,99.94 L451.18,101.26 L451.56,102.57 L451.95,103.87 L452.34,105.16 L452.72,106.45 L453.11,107.74 L453.49,109.03 L453.88,110.31 L454.27,111.61 L454.65,112.91 L455.04,114.22 L455.42,115.54 L455.81,116.87 L456.20,118.20 L456.58,119.53 L456.97,120.87 L457.35,122.21 L457.74,123.55 L458.13,124.89 L458.51,126.22 L458.90,127.55 L459.28,128.87 L459.67,130.19 L460.06,131.50 L460.44,132.80 L460.83,134.09 L461.21,135.38 L461.60,136.67" fill="none" stroke="#6cc832" stroke-width="1.5" stroke-linejoin="round" clip-path="url(#cb)" stroke-dasharray="4.7,4.3"/>
<path d="M307.20,63.77 L307.59,63.19 L307.97,62.60 L308.36,62.01 L308.74,61.40 L309.13,60.78 L309.52,60.14 L309.90,59.47 L310.29,58.78 L310.67,58.05 L311.06,57.29 L311.45,56.49 L311.83,55.66 L312.22,54.80 L312.60,53.92 L312.99,53.03 L313.38,52.14 L313.76,51.24 L314.15,50.36 L314.53,49.49 L314.92,48.65 L315.31,47.84 L315.69,47.05 L316.08,46.31 L316.46,45.61 L316.85,44.94 L317.24,44.33 L317.62,43.76 L318.01,43.25 L318.39,42.79 L318.78,42.39 L319.17,42.06 L319.55,41.79 L319.94,41.59 L320.32,41.46 L320.71,41.41 L321.10,41.45 L321.48,41.57 L321.87,41.78 L322.25,42.10 L322.64,42.54 L323.03,43.10 L323.41,43.79 L323.80,44.62 L324.18,45.56 L324.57,46.60 L324.96,47.71 L325.34,48.87 L325.73,50.06 L326.11,51.25 L326.50,52.43 L326.89,53.57 L327.27,54.67 L327.66,55.73 L328.04,56.75 L328.43,57.74 L328.82,58.69 L329.20,59.60 L329.59,60.48 L329.97,61.33 L330.36,62.15 L330.75,62.94 L331.13,63.69 L331.52,64.42 L331.90,65.11 L332.29,65.77 L332.68,66.39 L333.06,66.99 L333.45,67.55 L333.83,68.08 L334.22,68.55 L334.61,68.97 L334.99,69.31 L335.38,69.56 L335.76,69.71 L336.15,69.74 L336.54,69.67 L336.92,69.51 L337.31,69.27 L337.69,68.96 L338.08,68.60 L338.47,68.20 L338.85,67.77 L339.24,67.32 L339.62,66.87 L340.01,66.43 L340.40,66.02 L340.78,65.64 L341.17,65.31 L341.55,65.04 L341.94,64.85 L342.33,64.74 L342.71,64.72 L343.10,64.77 L343.48,64.91 L343.87,65.11 L344.26,65.39 L344.64,65.73 L345.03,66.14 L345.41,66.61 L345.80,67.13 L346.19,67.71 L346.57,68.33 L346.96,69.00 L347.34,69.71 L347.73,70.46 L348.12,71.24 L348.50,72.05 L348.89,72.89 L349.27,73.75 L349.66,74.64 L350.05,75.55 L350.43,76.47 L350.82,77.40 L351.20,78.35 L351.59,79.30 L351.98,80.25 L352.36,81.20 L352.75,82.13 L353.13,83.03 L353.52,83.91 L353.91,84.75 L354.29,85.55 L354.68,86.30 L355.06,86.99 L355.45,87.61 L355.84,88.17 L356.22,88.65 L356.61,89.04 L356.99,89.35 L357.38,89.56 L357.77,89.68 L358.15,89.69 L358.54,89.59 L358.92,89.38 L359.31,89.07 L359.70,88.65 L360.08,88.12 L360.47,87.49 L360.85,86.75 L361.24,85.91 L361.63,84.97 L362.01,83.94 L362.40,82.84 L362.78,81.67 L363.17,80.45 L363.56,79.20 L363.94,77.91 L364.33,76.62 L364.71,75.32 L365.10,74.03 L365.49,72.76 L365.87,71.52 L366.26,70.31 L366.64,69.13 L367.03,67.97 L367.42,66.85 L367.80,65.76 L368.19,64.70 L368.57,63.68 L368.96,62.69 L369.35,61.74 L369.73,60.83 L370.12,59.96 L370.50,59.13 L370.89,58.34 L371.28,57.59 L371.66,56.88 L372.05,56.21 L372.43,55.58 L372.82,55.02 L373.21,54.54 L373.59,54.16 L373.98,53.90 L374.36,53.78 L374.75,53.83 L375.14,54.06 L375.52,54.45 L375.91,54.96 L376.29,55.59 L376.68,56.29 L377.07,57.05 L377.45,57.83 L377.84,58.62 L378.22,59.41 L378.61,60.21 L379.00,61.03 L379.38,61.86 L379.77,62.71 L380.15,63.58 L380.54,64.46 L380.93,65.27 L381.31,65.97 L381.70,66.49 L382.08,66.76 L382.47,66.75 L382.86,66.45 L383.24,65.93 L383.63,65.27 L384.01,64.53 L384.40,63.77 L384.79,63.06 L385.17,62.39 L385.56,61.75 L385.94,61.13 L386.33,60.53 L386.72,59.92 L387.10,59.31 L387.49,58.67 L387.87,58.00 L388.26,57.29 L388.65,56.53 L389.03,55.71 L389.42,54.87 L389.80,53.99 L390.19,53.10 L390.58,52.19 L390.96,51.29 L391.35,50.39 L391.73,49.51 L392.12,48.65 L392.51,47.83 L392.89,47.04 L393.28,46.30 L393.66,45.59 L394.05,44.93 L394.44,44.32 L394.82,43.76 L395.21,43.25 L395.59,42.79 L395.98,42.40 L396.37,42.06 L396.75,41.79 L397.14,41.59 L397.52,41.46 L397.91,41.41 L398.30,41.45 L398.68,41.56 L399.07,41.78 L399.45,42.10 L399.84,42.54 L400.23,43.10 L400.61,43.79 L401.00,44.62 L401.38,45.56 L401.77,46.60 L402.16,47.71 L402.54,48.87 L402.93,50.06 L403.31,51.25 L403.70,52.43 L404.09,53.57 L404.47,54.67 L404.86,55.73 L405.24,56.75 L405.63,57.74 L406.02,58.69 L406.40,59.60 L406.79,60.48 L407.17,61.33 L407.56,62.15 L407.95,62.94 L408.33,63.69 L408.72,64.42 L409.10,65.11 L409.49,65.77 L409.88,66.39 L410.26,66.99 L410.65,67.55 L411.03,68.08 L411.42,68.55 L411.81,68.97 L412.19,69.31 L412.58,69.56 L412.96,69.71 L413.35,69.74 L413.74,69.67 L414.12,69.51 L414.51,69.27 L414.89,68.96 L415.28,68.60 L415.67,68.20 L416.05,67.77 L416.44,67.32 L416.82,66.87 L417.21,66.43 L417.60,66.02 L417.98,65.64 L418.37,65.31 L418.75,65.04 L419.14,64.85 L419.53,64.74 L419.91,64.72 L420.30,64.77 L420.68,64.91 L421.07,65.11 L421.46,65.39 L421.84,65.73 L422.23,66.14 L422.61,66.61 L423.00,67.13 L423.39,67.71 L423.77,68.33 L424.16,69.00 L424.54,69.71 L424.93,70.46 L425.32,71.24 L425.70,72.05 L426.09,72.89 L426.47,73.75 L426.86,74.64 L427.25,75.55 L427.63,76.47 L428.02,77.40 L428.40,78.35 L428.79,79.30 L429.18,80.25 L429.56,81.20 L429.95,82.13 L430.33,83.03 L430.72,83.91 L431.11,84.75 L431.49,85.55 L431.88,86.30 L432.26,86.99 L432.65,87.61 L433.04,88.17 L433.42,88.65 L433.81,89.04 L434.19,89.35 L434.58,89.56 L434.97,89.68 L435.35,89.69 L435.74,89.59 L436.12,89.38 L436.51,89.07 L436.90,88.65 L437.28,88.12 L437.67,87.49 L438.05,86.75 L438.44,85.91 L438.83,84.97 L439.21,83.94 L439.60,82.84 L439.98,81.67 L440.37,80.45 L440.76,79.20 L441.14,77.91 L441.53,76.62 L441.91,75.32 L442.30,74.03 L442.69,72.76 L443.07,71.52 L443.46,70.31 L443.84,69.13 L444.23,67.97 L444.62,66.85 L445.00,65.76 L445.39,64.70 L445.77,63.68 L446.16,62.69 L446.55,61.74 L446.93,60.83 L447.32,59.96 L447.70,59.13 L448.09,58.34 L448.48,57.59 L448.86,56.88 L449.25,56.21 L449.63,55.58 L450.02,55.02 L450.41,54.54 L450.79,54.16 L451.18,53.90 L451.56,53.78 L451.95,53.83 L452.34,54.06 L452.72,54.44 L453.11,54.96 L453.49,55.58 L453.88,56.29 L454.27,57.04 L454.65,57.83 L455.04,58.62 L455.42,59.42 L455.81,60.23 L456.20,61.04 L456.58,61.87 L456.97,62.72 L457.35,63.58 L457.74,64.43 L458.13,65.23 L458.51,65.92 L458.90,66.44 L459.28,66.74 L459.67,66.78 L460.06,66.56 L460.44,66.13 L460.83,65.54 L461.21,64.84 L461.60,64.09" fill="none" stroke="#e8191c" stroke-width="1.6" stroke-linejoin="round" clip-path="url(#cb)"/>
<path d="M307.20,136.67 L307.59,135.26 L307.97,133.86 L308.36,132.52 L308.74,131.24 L309.13,130.05 L309.52,128.97 L309.90,128.03 L310.29,127.22 L310.67,126.45 L311.06,125.59 L311.45,124.52 L311.83,123.12 L312.22,121.27 L312.60,118.85 L312.99,115.78 L313.38,112.20 L313.76,108.29 L314.15,104.23 L314.53,100.21 L314.92,96.41 L315.31,93.01 L315.69,90.17 L316.08,87.85 L316.46,85.93 L316.85,84.30 L317.24,82.83 L317.62,81.39 L318.01,79.87 L318.39,78.13 L318.78,76.11 L319.17,73.87 L319.55,71.51 L319.94,69.15 L320.32,66.89 L320.71,64.85 L321.10,63.11 L321.48,61.67 L321.87,60.55 L322.25,59.72 L322.64,59.17 L323.03,58.91 L323.41,58.91 L323.80,59.13 L324.18,59.51 L324.57,59.99 L324.96,60.53 L325.34,61.07 L325.73,61.61 L326.11,62.14 L326.50,62.67 L326.89,63.19 L327.27,63.71 L327.66,64.22 L328.04,64.72 L328.43,65.22 L328.82,65.71 L329.20,66.20 L329.59,66.68 L329.97,67.16 L330.36,67.65 L330.75,68.13 L331.13,68.63 L331.52,69.13 L331.90,69.64 L332.29,70.12 L332.68,70.58 L333.06,71.00 L333.45,71.36 L333.83,71.66 L334.22,71.87 L334.61,71.99 L334.99,72.03 L335.38,71.98 L335.76,71.87 L336.15,71.68 L336.54,71.44 L336.92,71.14 L337.31,70.79 L337.69,70.40 L338.08,69.99 L338.47,69.56 L338.85,69.12 L339.24,68.69 L339.62,68.28 L340.01,67.89 L340.40,67.55 L340.78,67.26 L341.17,67.02 L341.55,66.85 L341.94,66.76 L342.33,66.73 L342.71,66.79 L343.10,66.94 L343.48,67.17 L343.87,67.47 L344.26,67.83 L344.64,68.24 L345.03,68.70 L345.41,69.19 L345.80,69.71 L346.19,70.25 L346.57,70.80 L346.96,71.37 L347.34,71.96 L347.73,72.57 L348.12,73.19 L348.50,73.83 L348.89,74.48 L349.27,75.15 L349.66,75.84 L350.05,76.55 L350.43,77.27 L350.82,78.01 L351.20,78.76 L351.59,79.52 L351.98,80.29 L352.36,81.05 L352.75,81.82 L353.13,82.59 L353.52,83.35 L353.91,84.10 L354.29,84.83 L354.68,85.55 L355.06,86.23 L355.45,86.87 L355.84,87.46 L356.22,87.99 L356.61,88.43 L356.99,88.78 L357.38,89.02 L357.77,89.15 L358.15,89.15 L358.54,89.01 L358.92,88.74 L359.31,88.34 L359.70,87.82 L360.08,87.19 L360.47,86.46 L360.85,85.63 L361.24,84.72 L361.63,83.73 L362.01,82.67 L362.40,81.55 L362.78,80.37 L363.17,79.16 L363.56,77.92 L363.94,76.67 L364.33,75.42 L364.71,74.17 L365.10,72.95 L365.49,71.76 L365.87,70.61 L366.26,69.50 L366.64,68.44 L367.03,67.43 L367.42,66.47 L367.80,65.57 L368.19,64.71 L368.57,63.91 L368.96,63.13 L369.35,62.39 L369.73,61.68 L370.12,60.98 L370.50,60.29 L370.89,59.60 L371.28,58.91 L371.66,58.22 L372.05,57.54 L372.43,56.90 L372.82,56.32 L373.21,55.83 L373.59,55.45 L373.98,55.21 L374.36,55.13 L374.75,55.23 L375.14,55.49 L375.52,55.90 L375.91,56.44 L376.29,57.09 L376.68,57.83 L377.07,58.64 L377.45,59.51 L377.84,60.42 L378.22,61.36 L378.61,62.30 L379.00,63.23 L379.38,64.13 L379.77,64.99 L380.15,65.76 L380.54,66.43 L380.93,66.97 L381.31,67.36 L381.70,67.56 L382.08,67.55 L382.47,67.32 L382.86,66.90 L383.24,66.34 L383.63,65.69 L384.01,65.00 L384.40,64.31 L384.79,63.67 L385.17,63.07 L385.56,62.50 L385.94,61.96 L386.33,61.43 L386.72,60.91 L387.10,60.37 L387.49,59.82 L387.87,59.24 L388.26,58.62 L388.65,57.96 L389.03,57.26 L389.42,56.52 L389.80,55.76 L390.19,54.98 L390.58,54.19 L390.96,53.40 L391.35,52.62 L391.73,51.85 L392.12,51.11 L392.51,50.39 L392.89,49.71 L393.28,49.06 L393.66,48.45 L394.05,47.87 L394.44,47.34 L394.82,46.85 L395.21,46.41 L395.59,46.01 L395.98,45.67 L396.37,45.38 L396.75,45.14 L397.14,44.97 L397.52,44.86 L397.91,44.81 L398.30,44.84 L398.68,44.94 L399.07,45.13 L399.45,45.40 L399.84,45.78 L400.23,46.27 L400.61,46.88 L401.00,47.60 L401.38,48.43 L401.77,49.34 L402.16,50.32 L402.54,51.33 L402.93,52.36 L403.31,53.39 L403.70,54.40 L404.09,55.36 L404.47,56.28 L404.86,57.17 L405.24,58.02 L405.63,58.85 L406.02,59.65 L406.40,60.43 L406.79,61.19 L407.17,61.95 L407.56,62.69 L407.95,63.43 L408.33,64.16 L408.72,64.87 L409.10,65.57 L409.49,66.25 L409.88,66.90 L410.26,67.51 L410.65,68.09 L411.03,68.63 L411.42,69.11 L411.81,69.52 L412.19,69.86 L412.58,70.11 L412.96,70.25 L413.35,70.28 L413.74,70.21 L414.12,70.05 L414.51,69.80 L414.89,69.50 L415.28,69.14 L415.67,68.74 L416.05,68.31 L416.44,67.86 L416.82,67.41 L417.21,66.98 L417.60,66.56 L417.98,66.18 L418.37,65.85 L418.75,65.58 L419.14,65.39 L419.53,65.28 L419.91,65.26 L420.30,65.31 L420.68,65.45 L421.07,65.65 L421.46,65.93 L421.84,66.27 L422.23,66.68 L422.61,67.15 L423.00,67.67 L423.39,68.25 L423.77,68.87 L424.16,69.54 L424.54,70.25 L424.93,71.00 L425.32,71.78 L425.70,72.59 L426.09,73.43 L426.47,74.29 L426.86,75.18 L427.25,76.09 L427.63,77.01 L428.02,77.94 L428.40,78.89 L428.79,79.84 L429.18,80.79 L429.56,81.74 L429.95,82.67 L430.33,83.57 L430.72,84.45 L431.11,85.29 L431.49,86.09 L431.88,86.84 L432.26,87.53 L432.65,88.16 L433.04,88.71 L433.42,89.19 L433.81,89.58 L434.19,89.89 L434.58,90.11 L434.97,90.22 L435.35,90.23 L435.74,90.13 L436.12,89.92 L436.51,89.60 L436.90,89.18 L437.28,88.65 L437.67,88.02 L438.05,87.29 L438.44,86.45 L438.83,85.52 L439.21,84.50 L439.60,83.40 L439.98,82.24 L440.37,81.02 L440.76,79.77 L441.14,78.48 L441.53,77.18 L441.91,75.87 L442.30,74.57 L442.69,73.28 L443.07,72.02 L443.46,70.78 L443.84,69.57 L444.23,68.40 L444.62,67.26 L445.00,66.18 L445.39,65.14 L445.77,64.16 L446.16,63.23 L446.55,62.37 L446.93,61.56 L447.32,60.81 L447.70,60.11 L448.09,59.45 L448.48,58.83 L448.86,58.24 L449.25,57.68 L449.63,57.16 L450.02,56.67 L450.41,56.25 L450.79,55.92 L451.18,55.68 L451.56,55.58 L451.95,55.62 L452.34,55.81 L452.72,56.15 L453.11,56.60 L453.49,57.15 L453.88,57.76 L454.27,58.42 L454.65,59.09 L455.04,59.77 L455.42,60.44 L455.81,61.13 L456.20,61.83 L456.58,62.55 L456.97,63.30 L457.35,64.09 L457.74,64.89 L458.13,65.66 L458.51,66.35 L458.90,66.90 L459.28,67.26 L459.67,67.37 L460.06,67.26 L460.44,66.96 L460.83,66.51 L461.21,65.98 L461.60,65.39" fill="none" stroke="#0000ff" stroke-width="1.3" stroke-linejoin="round" clip-path="url(#cb)" stroke-opacity="0.62"/>
<path d="M305.55,136.67 H308.85 M307.20,135.02 V138.32 M311.01,118.42 H314.31 M312.66,116.77 V120.07 M316.47,79.38 H319.77 M318.12,77.73 V81.03 M321.92,59.00 H325.22 M323.57,57.35 V60.65 M327.38,65.99 H330.68 M329.03,64.34 V67.64 M332.84,71.96 H336.14 M334.49,70.31 V73.61 M338.30,67.96 H341.60 M339.95,66.31 V69.61 M343.76,69.18 H347.06 M345.41,67.53 V70.83 M349.21,78.10 H352.51 M350.86,76.45 V79.75 M354.67,88.10 H357.97 M356.32,86.45 V89.75 M360.13,83.31 H363.43 M361.78,81.66 V84.96 M365.59,66.91 H368.89 M367.24,65.26 V68.56 M371.05,56.50 H374.35 M372.70,54.85 V58.15 M376.50,61.19 H379.80 M378.15,59.54 V62.84 M381.96,65.72 H385.26 M383.61,64.07 V67.37 M387.42,57.18 H390.72 M389.07,55.53 V58.83 M392.88,47.22 H396.18 M394.53,45.57 V48.87 M398.34,45.97 H401.64 M399.99,44.32 V47.62 M403.79,58.45 H407.09 M405.44,56.80 V60.10 M409.25,68.44 H412.55 M410.90,66.79 V70.09 M414.71,67.95 H418.01 M416.36,66.30 V69.60 M420.17,66.25 H423.47 M421.82,64.60 V67.90 M425.63,76.16 H428.93 M427.28,74.51 V77.81 M431.08,88.28 H434.38 M432.73,86.63 V89.93 M436.54,86.98 H439.84 M438.19,85.33 V88.63 M442.00,70.17 H445.30 M443.65,68.52 V71.82 M447.46,57.88 H450.76 M449.11,56.23 V59.53 M452.92,58.95 H456.22 M454.57,57.30 V60.60 M458.38,67.27 H461.68 M460.03,65.62 V68.92" stroke="#1a1ad0" stroke-width="1.05" fill="none"/>
<line x1="346.10" y1="134.90" x2="363.40" y2="134.90" stroke="#e8191c" stroke-width="1.4"/>
<text x="365.5" y="137.8" font-family='"Liberation Serif", serif' font-size="8.4" text-anchor="start" font-weight="normal" fill="#333333" textLength="41" lengthAdjust="spacingAndGlyphs">Healthy Ref</text>
<line x1="346.10" y1="144.20" x2="363.40" y2="144.20" stroke="#6cc832" stroke-width="1.5" stroke-dasharray="4.7,4.3"/>
<text x="365.5" y="147.3" font-family='"Liberation Serif", serif' font-size="8.4" text-anchor="start" font-weight="normal" fill="#333333">Stroke</text>
<line x1="346.10" y1="153.90" x2="363.40" y2="153.90" stroke="#0000ff" stroke-width="1.3" stroke-opacity="0.45"/>
<line x1="355.00" y1="152.10" x2="355.00" y2="155.70" stroke="#1a1ad0" stroke-width="1.1"/>
<line x1="353.20" y1="153.90" x2="356.80" y2="153.90" stroke="#1a1ad0" stroke-width="1.1"/>
<text x="365.5" y="156.8" font-family='"Liberation Serif", serif' font-size="8.4" text-anchor="start" font-weight="normal" fill="#333333" textLength="56" lengthAdjust="spacingAndGlyphs">Improved Stroke</text>
<clipPath id="cc"><rect x="513.4" y="36.3" width="154.80000000000007" height="131.3"/></clipPath>
<path d="M513.40,79.46 L513.79,81.25 L514.17,83.03 L514.56,84.79 L514.95,86.54 L515.33,88.25 L515.72,89.93 L516.11,91.57 L516.50,93.16 L516.88,94.69 L517.27,96.16 L517.66,97.55 L518.04,98.88 L518.43,100.14 L518.82,101.33 L519.20,102.48 L519.59,103.57 L519.98,104.62 L520.37,105.63 L520.75,106.61 L521.14,107.56 L521.53,108.50 L521.91,109.42 L522.30,110.33 L522.69,111.24 L523.07,112.15 L523.46,113.06 L523.85,113.98 L524.24,114.89 L524.62,115.81 L525.01,116.72 L525.40,117.63 L525.78,118.54 L526.17,119.43 L526.56,120.33 L526.94,121.21 L527.33,122.09 L527.72,122.96 L528.11,123.82 L528.49,124.66 L528.88,125.50 L529.27,126.32 L529.65,127.14 L530.04,127.95 L530.43,128.75 L530.81,129.55 L531.20,130.34 L531.59,131.13 L531.98,131.92 L532.36,132.70 L532.75,133.49 L533.14,134.28 L533.52,135.07 L533.91,135.86 L534.30,136.66 L534.68,137.46 L535.07,138.27 L535.46,139.08 L535.85,139.89 L536.23,140.70 L536.62,141.52 L537.01,142.34 L537.39,143.17 L537.78,143.99 L538.17,144.82 L538.55,145.66 L538.94,146.50 L539.33,147.33 L539.72,148.17 L540.10,149.00 L540.49,149.81 L540.88,150.62 L541.26,151.40 L541.65,152.16 L542.04,152.89 L542.42,153.60 L542.81,154.27 L543.20,154.90 L543.59,155.52 L543.97,156.14 L544.36,156.78 L544.75,157.46 L545.13,158.21 L545.52,159.04 L545.91,159.97 L546.29,161.02 L546.68,162.21 L547.07,163.55 L547.46,164.99 L547.84,166.45 L548.23,167.86 L548.62,169.16 L549.00,170.27 L549.39,171.13 L549.78,171.66 L550.16,171.80 L550.55,171.48 L550.94,170.65 L551.33,169.34 L551.71,167.62 L552.10,165.56 L552.49,163.21 L552.87,160.63 L553.26,157.94 L553.65,155.23 L554.03,152.61 L554.42,150.18 L554.81,147.91 L555.20,145.80 L555.58,143.82 L555.97,141.94 L556.36,140.13 L556.74,138.38 L557.13,136.66 L557.52,134.95 L557.90,133.22 L558.29,131.47 L558.68,129.68 L559.07,127.81 L559.45,125.87 L559.84,123.82 L560.23,121.65 L560.61,119.39 L561.00,117.06 L561.39,114.68 L561.77,112.29 L562.16,109.91 L562.55,107.56 L562.94,105.22 L563.32,102.88 L563.71,100.49 L564.10,98.05 L564.48,95.53 L564.87,92.92 L565.26,90.21 L565.64,87.46 L566.03,84.69 L566.42,81.94 L566.81,79.23 L567.19,76.60 L567.58,74.09 L567.97,71.72 L568.35,69.51 L568.74,67.46 L569.13,65.54 L569.51,63.75 L569.90,62.06 L570.29,60.46 L570.68,58.94 L571.06,57.48 L571.45,56.10 L571.84,54.79 L572.22,53.57 L572.61,52.44 L573.00,51.41 L573.38,50.49 L573.77,49.69 L574.16,48.99 L574.55,48.38 L574.93,47.86 L575.32,47.41 L575.71,47.02 L576.09,46.69 L576.48,46.42 L576.87,46.20 L577.25,46.05 L577.64,45.96 L578.03,45.94 L578.42,45.99 L578.80,46.11 L579.19,46.31 L579.58,46.59 L579.96,46.93 L580.35,47.35 L580.74,47.83 L581.12,48.39 L581.51,49.01 L581.90,49.70 L582.29,50.44 L582.67,51.23 L583.06,52.07 L583.45,52.93 L583.83,53.82 L584.22,54.72 L584.61,55.63 L585.00,56.54 L585.38,57.47 L585.77,58.44 L586.16,59.46 L586.54,60.56 L586.93,61.76 L587.32,63.08 L587.70,64.54 L588.09,66.14 L588.48,67.87 L588.87,69.69 L589.25,71.60 L589.64,73.55 L590.03,75.53 L590.41,77.51 L590.80,79.46 L591.19,81.37 L591.57,83.24 L591.96,85.05 L592.35,86.81 L592.74,88.52 L593.12,90.17 L593.51,91.76 L593.90,93.30 L594.28,94.77 L594.67,96.19 L595.06,97.54 L595.44,98.83 L595.83,100.06 L596.22,101.24 L596.61,102.38 L596.99,103.47 L597.38,104.52 L597.77,105.54 L598.15,106.53 L598.54,107.50 L598.93,108.45 L599.31,109.39 L599.70,110.32 L600.09,111.24 L600.48,112.16 L600.86,113.08 L601.25,114.00 L601.64,114.92 L602.02,115.84 L602.41,116.75 L602.80,117.66 L603.18,118.56 L603.57,119.46 L603.96,120.34 L604.35,121.23 L604.73,122.10 L605.12,122.96 L605.51,123.82 L605.89,124.66 L606.28,125.49 L606.67,126.31 L607.05,127.13 L607.44,127.94 L607.83,128.74 L608.21,129.54 L608.60,130.33 L608.99,131.12 L609.38,131.91 L609.76,132.70 L610.15,133.49 L610.54,134.28 L610.92,135.07 L611.31,135.86 L611.70,136.66 L612.09,137.46 L612.47,138.27 L612.86,139.08 L613.25,139.89 L613.63,140.70 L614.02,141.52 L614.41,142.34 L614.79,143.17 L615.18,143.99 L615.57,144.82 L615.95,145.66 L616.34,146.50 L616.73,147.33 L617.12,148.17 L617.50,149.00 L617.89,149.81 L618.28,150.62 L618.66,151.40 L619.05,152.16 L619.44,152.89 L619.82,153.60 L620.21,154.27 L620.60,154.90 L620.99,155.52 L621.37,156.14 L621.76,156.78 L622.15,157.46 L622.53,158.21 L622.92,159.04 L623.31,159.97 L623.69,161.02 L624.08,162.21 L624.47,163.55 L624.86,164.99 L625.24,166.45 L625.63,167.86 L626.02,169.16 L626.40,170.27 L626.79,171.13 L627.18,171.66 L627.56,171.80 L627.95,171.48 L628.34,170.65 L628.73,169.34 L629.11,167.62 L629.50,165.56 L629.89,163.21 L630.27,160.63 L630.66,157.94 L631.05,155.23 L631.43,152.61 L631.82,150.18 L632.21,147.91 L632.60,145.80 L632.98,143.82 L633.37,141.94 L633.76,140.13 L634.14,138.38 L634.53,136.66 L634.92,134.95 L635.30,133.22 L635.69,131.47 L636.08,129.68 L636.47,127.81 L636.85,125.87 L637.24,123.82 L637.63,121.65 L638.01,119.39 L638.40,117.06 L638.79,114.68 L639.17,112.29 L639.56,109.91 L639.95,107.56 L640.34,105.22 L640.72,102.88 L641.11,100.49 L641.50,98.05 L641.88,95.53 L642.27,92.92 L642.66,90.21 L643.04,87.46 L643.43,84.69 L643.82,81.94 L644.21,79.23 L644.59,76.60 L644.98,74.09 L645.37,71.72 L645.75,69.51 L646.14,67.46 L646.53,65.54 L646.91,63.75 L647.30,62.06 L647.69,60.46 L648.08,58.94 L648.46,57.48 L648.85,56.10 L649.24,54.79 L649.62,53.57 L650.01,52.44 L650.40,51.41 L650.78,50.49 L651.17,49.69 L651.56,48.99 L651.95,48.38 L652.33,47.86 L652.72,47.41 L653.11,47.02 L653.49,46.69 L653.88,46.42 L654.27,46.20 L654.65,46.05 L655.04,45.96 L655.43,45.94 L655.82,45.99 L656.20,46.12 L656.59,46.32 L656.98,46.59 L657.36,46.94 L657.75,47.36 L658.14,47.84 L658.52,48.40 L658.91,49.01 L659.30,49.69 L659.69,50.42 L660.07,51.20 L660.46,52.02 L660.85,52.89 L661.23,53.78 L661.62,54.70 L662.01,55.63 L662.39,56.58 L662.78,57.55 L663.17,58.56 L663.56,59.61 L663.94,60.72 L664.33,61.90 L664.72,63.16 L665.10,64.51 L665.49,65.96 L665.88,67.49 L666.26,69.10 L666.65,70.77 L667.04,72.48 L667.43,74.24 L667.81,76.02 L668.20,77.81" fill="none" stroke="#6cc832" stroke-width="1.5" stroke-linejoin="round" clip-path="url(#cc)" stroke-dasharray="4.7,4.3"/>
<path d="M513.40,36.10 L513.79,36.03 L514.17,35.97 L514.56,35.93 L514.95,35.94 L515.33,35.99 L515.72,36.12 L516.11,36.33 L516.50,36.65 L516.88,37.09 L517.27,37.67 L517.66,38.37 L518.04,39.15 L518.43,39.99 L518.82,40.86 L519.20,41.73 L519.59,42.57 L519.98,43.39 L520.37,44.20 L520.75,44.99 L521.14,45.78 L521.53,46.56 L521.91,47.36 L522.30,48.16 L522.69,48.99 L523.07,49.87 L523.46,50.81 L523.85,51.83 L524.24,52.94 L524.62,54.17 L525.01,55.53 L525.40,57.01 L525.78,58.60 L526.17,60.27 L526.56,62.01 L526.94,63.78 L527.33,65.56 L527.72,67.34 L528.11,69.10 L528.49,70.86 L528.88,72.61 L529.27,74.34 L529.65,76.07 L530.04,77.78 L530.43,79.48 L530.81,81.17 L531.20,82.84 L531.59,84.50 L531.98,86.15 L532.36,87.78 L532.75,89.39 L533.14,90.99 L533.52,92.57 L533.91,94.14 L534.30,95.69 L534.68,97.23 L535.07,98.75 L535.46,100.25 L535.85,101.74 L536.23,103.21 L536.62,104.67 L537.01,106.10 L537.39,107.51 L537.78,108.89 L538.17,110.25 L538.55,111.57 L538.94,112.87 L539.33,114.15 L539.72,115.39 L540.10,116.61 L540.49,117.79 L540.88,118.95 L541.26,120.09 L541.65,121.19 L542.04,122.26 L542.42,123.30 L542.81,124.31 L543.20,125.29 L543.59,126.22 L543.97,127.13 L544.36,127.99 L544.75,128.82 L545.13,129.62 L545.52,130.40 L545.91,131.15 L546.29,131.89 L546.68,132.61 L547.07,133.32 L547.46,134.03 L547.84,134.73 L548.23,135.44 L548.62,136.14 L549.00,136.84 L549.39,137.55 L549.78,138.26 L550.16,138.98 L550.55,139.70 L550.94,140.44 L551.33,141.17 L551.71,141.90 L552.10,142.62 L552.49,143.33 L552.87,144.01 L553.26,144.67 L553.65,145.29 L554.03,145.86 L554.42,146.36 L554.81,146.76 L555.20,147.04 L555.58,147.19 L555.97,147.20 L556.36,147.05 L556.74,146.75 L557.13,146.29 L557.52,145.66 L557.90,144.87 L558.29,143.92 L558.68,142.80 L559.07,141.50 L559.45,140.03 L559.84,138.40 L560.23,136.62 L560.61,134.74 L561.00,132.78 L561.39,130.77 L561.77,128.74 L562.16,126.68 L562.55,124.58 L562.94,122.42 L563.32,120.18 L563.71,117.86 L564.10,115.43 L564.48,112.93 L564.87,110.39 L565.26,107.83 L565.64,105.28 L566.03,102.77 L566.42,100.28 L566.81,97.79 L567.19,95.27 L567.58,92.70 L567.97,90.07 L568.35,87.38 L568.74,84.66 L569.13,81.93 L569.51,79.21 L569.90,76.54 L570.29,73.91 L570.68,71.32 L571.06,68.79 L571.45,66.32 L571.84,63.91 L572.22,61.55 L572.61,59.27 L573.00,57.06 L573.38,54.95 L573.77,52.94 L574.16,51.03 L574.55,49.25 L574.93,47.59 L575.32,46.06 L575.71,44.68 L576.09,43.46 L576.48,42.39 L576.87,41.49 L577.25,40.73 L577.64,40.10 L578.03,39.57 L578.42,39.13 L578.80,38.75 L579.19,38.41 L579.58,38.12 L579.96,37.87 L580.35,37.67 L580.74,37.51 L581.12,37.41 L581.51,37.37 L581.90,37.38 L582.29,37.44 L582.67,37.57 L583.06,37.74 L583.45,37.95 L583.83,38.18 L584.22,38.42 L584.61,38.66 L585.00,38.87 L585.38,39.02 L585.77,39.08 L586.16,39.03 L586.54,38.88 L586.93,38.66 L587.32,38.39 L587.70,38.09 L588.09,37.78 L588.48,37.48 L588.87,37.19 L589.25,36.92 L589.64,36.67 L590.03,36.44 L590.41,36.25 L590.80,36.10 L591.19,35.99 L591.57,35.93 L591.96,35.91 L592.35,35.94 L592.74,36.00 L593.12,36.13 L593.51,36.34 L593.90,36.65 L594.28,37.09 L594.67,37.67 L595.06,38.37 L595.44,39.15 L595.83,39.99 L596.22,40.86 L596.61,41.73 L596.99,42.57 L597.38,43.40 L597.77,44.20 L598.15,44.99 L598.54,45.78 L598.93,46.56 L599.31,47.36 L599.70,48.16 L600.09,48.99 L600.48,49.87 L600.86,50.81 L601.25,51.83 L601.64,52.94 L602.02,54.17 L602.41,55.53 L602.80,57.01 L603.18,58.60 L603.57,60.27 L603.96,62.01 L604.35,63.78 L604.73,65.56 L605.12,67.34 L605.51,69.10 L605.89,70.86 L606.28,72.61 L606.67,74.34 L607.05,76.07 L607.44,77.78 L607.83,79.48 L608.21,81.17 L608.60,82.84 L608.99,84.50 L609.38,86.15 L609.76,87.78 L610.15,89.39 L610.54,90.99 L610.92,92.57 L611.31,94.14 L611.70,95.69 L612.09,97.23 L612.47,98.75 L612.86,100.25 L613.25,101.74 L613.63,103.21 L614.02,104.67 L614.41,106.10 L614.79,107.51 L615.18,108.89 L615.57,110.25 L615.95,111.57 L616.34,112.87 L616.73,114.15 L617.12,115.39 L617.50,116.61 L617.89,117.79 L618.28,118.95 L618.66,120.09 L619.05,121.19 L619.44,122.26 L619.82,123.30 L620.21,124.31 L620.60,125.29 L620.99,126.22 L621.37,127.13 L621.76,127.99 L622.15,128.82 L622.53,129.62 L622.92,130.40 L623.31,131.15 L623.69,131.89 L624.08,132.61 L624.47,133.32 L624.86,134.03 L625.24,134.73 L625.63,135.44 L626.02,136.14 L626.40,136.84 L626.79,137.55 L627.18,138.26 L627.56,138.98 L627.95,139.70 L628.34,140.44 L628.73,141.17 L629.11,141.90 L629.50,142.62 L629.89,143.33 L630.27,144.01 L630.66,144.67 L631.05,145.29 L631.43,145.86 L631.82,146.36 L632.21,146.76 L632.60,147.04 L632.98,147.19 L633.37,147.20 L633.76,147.05 L634.14,146.75 L634.53,146.29 L634.92,145.66 L635.30,144.87 L635.69,143.92 L636.08,142.80 L636.47,141.50 L636.85,140.03 L637.24,138.40 L637.63,136.62 L638.01,134.74 L638.40,132.78 L638.79,130.77 L639.17,128.74 L639.56,126.68 L639.95,124.58 L640.34,122.42 L640.72,120.18 L641.11,117.86 L641.50,115.43 L641.88,112.93 L642.27,110.39 L642.66,107.83 L643.04,105.28 L643.43,102.77 L643.82,100.28 L644.21,97.79 L644.59,95.27 L644.98,92.70 L645.37,90.07 L645.75,87.38 L646.14,84.66 L646.53,81.93 L646.91,79.21 L647.30,76.54 L647.69,73.91 L648.08,71.32 L648.46,68.79 L648.85,66.32 L649.24,63.91 L649.62,61.55 L650.01,59.27 L650.40,57.06 L650.78,54.95 L651.17,52.94 L651.56,51.03 L651.95,49.25 L652.33,47.59 L652.72,46.06 L653.11,44.68 L653.49,43.46 L653.88,42.39 L654.27,41.49 L654.65,40.73 L655.04,40.10 L655.43,39.57 L655.82,39.13 L656.20,38.75 L656.59,38.41 L656.98,38.12 L657.36,37.87 L657.75,37.67 L658.14,37.52 L658.52,37.41 L658.91,37.37 L659.30,37.38 L659.69,37.44 L660.07,37.57 L660.46,37.74 L660.85,37.94 L661.23,38.17 L661.62,38.42 L662.01,38.66 L662.39,38.87 L662.78,39.03 L663.17,39.08 L663.56,39.02 L663.94,38.86 L664.33,38.63 L664.72,38.36 L665.10,38.09 L665.49,37.83 L665.88,37.59 L666.26,37.37 L666.65,37.17 L667.04,36.97 L667.43,36.79 L667.81,36.61 L668.20,36.43" fill="none" stroke="#e8191c" stroke-width="1.6" stroke-linejoin="round" clip-path="url(#cc)"/>
<path d="M513.40,78.80 L513.79,75.41 L514.17,72.02 L514.56,68.64 L514.95,65.27 L515.33,61.93 L515.72,58.61 L516.11,55.38 L516.50,52.33 L516.88,49.58 L517.27,47.23 L517.66,45.37 L518.04,44.05 L518.43,43.15 L518.82,42.53 L519.20,42.06 L519.59,41.64 L519.98,41.32 L520.37,41.18 L520.75,41.33 L521.14,41.82 L521.53,42.64 L521.91,43.72 L522.30,44.98 L522.69,46.36 L523.07,47.80 L523.46,49.29 L523.85,50.82 L524.24,52.39 L524.62,53.99 L525.01,55.63 L525.40,57.29 L525.78,58.98 L526.17,60.68 L526.56,62.41 L526.94,64.14 L527.33,65.89 L527.72,67.64 L528.11,69.40 L528.49,71.15 L528.88,72.90 L529.27,74.65 L529.65,76.38 L530.04,78.10 L530.43,79.81 L530.81,81.50 L531.20,83.18 L531.59,84.84 L531.98,86.48 L532.36,88.11 L532.75,89.72 L533.14,91.32 L533.52,92.90 L533.91,94.47 L534.30,96.02 L534.68,97.56 L535.07,99.08 L535.46,100.58 L535.85,102.07 L536.23,103.54 L536.62,105.00 L537.01,106.43 L537.39,107.83 L537.78,109.22 L538.17,110.58 L538.55,111.91 L538.94,113.21 L539.33,114.48 L539.72,115.73 L540.10,116.94 L540.49,118.13 L540.88,119.29 L541.26,120.41 L541.65,121.50 L542.04,122.57 L542.42,123.60 L542.81,124.61 L543.20,125.58 L543.59,126.53 L543.97,127.46 L544.36,128.35 L544.75,129.22 L545.13,130.06 L545.52,130.86 L545.91,131.63 L546.29,132.36 L546.68,133.06 L547.07,133.71 L547.46,134.31 L547.84,134.88 L548.23,135.42 L548.62,135.94 L549.00,136.46 L549.39,136.98 L549.78,137.52 L550.16,138.10 L550.55,138.71 L550.94,139.38 L551.33,140.08 L551.71,140.81 L552.10,141.55 L552.49,142.28 L552.87,142.99 L553.26,143.68 L553.65,144.31 L554.03,144.88 L554.42,145.37 L554.81,145.76 L555.20,146.05 L555.58,146.21 L555.97,146.22 L556.36,146.09 L556.74,145.79 L557.13,145.32 L557.52,144.67 L557.90,143.83 L558.29,142.82 L558.68,141.66 L559.07,140.40 L559.45,139.04 L559.84,137.62 L560.23,136.13 L560.61,134.55 L561.00,132.88 L561.39,131.10 L561.77,129.20 L562.16,127.19 L562.55,125.08 L562.94,122.87 L563.32,120.57 L563.71,118.19 L564.10,115.73 L564.48,113.23 L564.87,110.69 L565.26,108.14 L565.64,105.61 L566.03,103.11 L566.42,100.62 L566.81,98.13 L567.19,95.61 L567.58,93.03 L567.97,90.39 L568.35,87.70 L568.74,84.98 L569.13,82.26 L569.51,79.55 L569.90,76.87 L570.29,74.24 L570.68,71.66 L571.06,69.13 L571.45,66.65 L571.84,64.24 L572.22,61.88 L572.61,59.60 L573.00,57.40 L573.38,55.28 L573.77,53.27 L574.16,51.36 L574.55,49.58 L574.93,47.92 L575.32,46.39 L575.71,45.02 L576.09,43.79 L576.48,42.72 L576.87,41.82 L577.25,41.06 L577.64,40.43 L578.03,39.90 L578.42,39.46 L578.80,39.08 L579.19,38.74 L579.58,38.45 L579.96,38.20 L580.35,38.00 L580.74,37.85 L581.12,37.74 L581.51,37.70 L581.90,37.71 L582.29,37.77 L582.67,37.90 L583.06,38.07 L583.45,38.28 L583.83,38.51 L584.22,38.75 L584.61,38.99 L585.00,39.20 L585.38,39.35 L585.77,39.41 L586.16,39.36 L586.54,39.21 L586.93,38.99 L587.32,38.72 L587.70,38.42 L588.09,38.11 L588.48,37.82 L588.87,37.53 L589.25,37.25 L589.64,37.00 L590.03,36.77 L590.41,36.58 L590.80,36.43 L591.19,36.33 L591.57,36.26 L591.96,36.24 L592.35,36.27 L592.74,36.33 L593.12,36.46 L593.51,36.67 L593.90,36.99 L594.28,37.42 L594.67,38.00 L595.06,38.70 L595.44,39.48 L595.83,40.32 L596.22,41.19 L596.61,42.06 L596.99,42.90 L597.38,43.73 L597.77,44.53 L598.15,45.32 L598.54,46.11 L598.93,46.89 L599.31,47.69 L599.70,48.49 L600.09,49.32 L600.48,50.20 L600.86,51.14 L601.25,52.16 L601.64,53.28 L602.02,54.50 L602.41,55.86 L602.80,57.34 L603.18,58.93 L603.57,60.60 L603.96,62.34 L604.35,64.11 L604.73,65.89 L605.12,67.67 L605.51,69.44 L605.89,71.19 L606.28,72.94 L606.67,74.67 L607.05,76.40 L607.44,78.11 L607.83,79.81 L608.21,81.50 L608.60,83.17 L608.99,84.83 L609.38,86.48 L609.76,88.11 L610.15,89.72 L610.54,91.32 L610.92,92.91 L611.31,94.47 L611.70,96.02 L612.09,97.56 L612.47,99.08 L612.86,100.58 L613.25,102.07 L613.63,103.54 L614.02,105.00 L614.41,106.43 L614.79,107.83 L615.18,109.22 L615.57,110.58 L615.95,111.91 L616.34,113.21 L616.73,114.48 L617.12,115.73 L617.50,116.94 L617.89,118.13 L618.28,119.29 L618.66,120.41 L619.05,121.50 L619.44,122.57 L619.82,123.60 L620.21,124.61 L620.60,125.58 L620.99,126.53 L621.37,127.46 L621.76,128.35 L622.15,129.22 L622.53,130.06 L622.92,130.86 L623.31,131.63 L623.69,132.36 L624.08,133.06 L624.47,133.71 L624.86,134.31 L625.24,134.88 L625.63,135.42 L626.02,135.94 L626.40,136.46 L626.79,136.98 L627.18,137.52 L627.56,138.10 L627.95,138.71 L628.34,139.38 L628.73,140.08 L629.11,140.81 L629.50,141.55 L629.89,142.28 L630.27,142.99 L630.66,143.68 L631.05,144.31 L631.43,144.88 L631.82,145.37 L632.21,145.76 L632.60,146.05 L632.98,146.21 L633.37,146.22 L633.76,146.09 L634.14,145.79 L634.53,145.32 L634.92,144.67 L635.30,143.83 L635.69,142.82 L636.08,141.66 L636.47,140.40 L636.85,139.04 L637.24,137.62 L637.63,136.13 L638.01,134.55 L638.40,132.88 L638.79,131.10 L639.17,129.20 L639.56,127.19 L639.95,125.08 L640.34,122.87 L640.72,120.57 L641.11,118.19 L641.50,115.73 L641.88,113.23 L642.27,110.69 L642.66,108.14 L643.04,105.61 L643.43,103.11 L643.82,100.62 L644.21,98.13 L644.59,95.61 L644.98,93.03 L645.37,90.39 L645.75,87.70 L646.14,84.98 L646.53,82.26 L646.91,79.55 L647.30,76.87 L647.69,74.24 L648.08,71.66 L648.46,69.13 L648.85,66.65 L649.24,64.24 L649.62,61.88 L650.01,59.60 L650.40,57.40 L650.78,55.28 L651.17,53.27 L651.56,51.36 L651.95,49.58 L652.33,47.92 L652.72,46.40 L653.11,45.02 L653.49,43.79 L653.88,42.72 L654.27,41.82 L654.65,41.06 L655.04,40.43 L655.43,39.90 L655.82,39.46 L656.20,39.08 L656.59,38.74 L656.98,38.45 L657.36,38.20 L657.75,38.00 L658.14,37.85 L658.52,37.75 L658.91,37.70 L659.30,37.71 L659.69,37.77 L660.07,37.90 L660.46,38.07 L660.85,38.27 L661.23,38.50 L661.62,38.75 L662.01,38.99 L662.39,39.21 L662.78,39.36 L663.17,39.41 L663.56,39.34 L663.94,39.18 L664.33,38.95 L664.72,38.68 L665.10,38.42 L665.49,38.18 L665.88,37.97 L666.26,37.79 L666.65,37.62 L667.04,37.48 L667.43,37.34 L667.81,37.22 L668.20,37.09" fill="none" stroke="#0000ff" stroke-width="1.3" stroke-linejoin="round" clip-path="url(#cc)" stroke-opacity="0.62"/>
<path d="M511.75,78.80 H515.05 M513.40,77.15 V80.45 M517.32,42.34 H520.62 M518.97,40.69 V43.99 M522.90,53.67 H526.20 M524.55,52.02 V55.32 M528.47,78.45 H531.77 M530.12,76.80 V80.10 M534.04,101.48 H537.34 M535.69,99.83 V103.13 M539.61,120.41 H542.91 M541.26,118.76 V122.06 M545.19,133.32 H548.49 M546.84,131.67 V134.97 M550.76,142.13 H554.06 M552.41,140.48 V143.78 M556.33,143.62 H559.63 M557.98,141.97 V145.27 M561.91,119.14 H565.21 M563.56,117.49 V120.79 M567.48,82.26 H570.78 M569.13,80.61 V83.91 M573.05,48.91 H576.35 M574.70,47.26 V50.56 M578.62,38.04 H581.92 M580.27,36.39 V39.69 M584.20,39.40 H587.50 M585.85,37.75 V41.05 M589.77,36.29 H593.07 M591.42,34.64 V37.94 M595.34,42.90 H598.64 M596.99,41.25 V44.55 M600.91,56.45 H604.21 M602.56,54.80 V58.10 M606.49,81.16 H609.79 M608.14,79.51 V82.81 M612.06,103.83 H615.36 M613.71,102.18 V105.48 M617.63,122.14 H620.93 M619.28,120.49 V123.79 M623.21,134.31 H626.51 M624.86,132.66 V135.96 M628.78,143.27 H632.08 M630.43,141.62 V144.92 M634.35,141.89 H637.65 M636.00,140.24 V143.54 M639.92,115.23 H643.22 M641.57,113.58 V116.88 M645.50,77.94 H648.80 M647.15,76.29 V79.59 M651.07,46.40 H654.37 M652.72,44.75 V48.05 M656.64,37.81 H659.94 M658.29,36.16 V39.46 M662.22,39.21 H665.52 M663.87,37.56 V40.86" stroke="#1a1ad0" stroke-width="1.05" fill="none"/>
<line x1="553.10" y1="138.30" x2="570.40" y2="138.30" stroke="#e8191c" stroke-width="1.4"/>
<text x="572.0" y="141.2" font-family='"Liberation Serif", serif' font-size="8.4" text-anchor="start" font-weight="normal" fill="#333333" textLength="41" lengthAdjust="spacingAndGlyphs">Healthy Ref</text>
<line x1="553.10" y1="147.60" x2="570.40" y2="147.60" stroke="#6cc832" stroke-width="1.5" stroke-dasharray="4.7,4.3"/>
<text x="572.0" y="150.6" font-family='"Liberation Serif", serif' font-size="8.4" text-anchor="start" font-weight="normal" fill="#333333">Stroke</text>
<line x1="553.10" y1="157.30" x2="570.40" y2="157.30" stroke="#0000ff" stroke-width="1.3" stroke-opacity="0.45"/>
<line x1="561.70" y1="155.50" x2="561.70" y2="159.10" stroke="#1a1ad0" stroke-width="1.1"/>
<line x1="559.90" y1="157.30" x2="563.50" y2="157.30" stroke="#1a1ad0" stroke-width="1.1"/>
<text x="572.0" y="160.2" font-family='"Liberation Serif", serif' font-size="8.4" text-anchor="start" font-weight="normal" fill="#333333" textLength="56" lengthAdjust="spacingAndGlyphs">Improved Stroke</text>
<clipPath id="cd"><rect x="310.0" y="235.5" width="142.60000000000002" height="120.69999999999999"/></clipPath>
<path d="M310.00,333.94 L310.36,334.33 L310.71,334.72 L311.07,335.11 L311.43,335.49 L311.78,335.87 L312.14,336.24 L312.50,336.60 L312.85,336.95 L313.21,337.28 L313.56,337.61 L313.92,337.92 L314.28,338.21 L314.63,338.50 L314.99,338.77 L315.35,339.03 L315.70,339.28 L316.06,339.53 L316.42,339.77 L316.77,340.00 L317.13,340.23 L317.49,340.45 L317.84,340.67 L318.20,340.90 L318.56,341.12 L318.91,341.35 L319.27,341.57 L319.63,341.80 L319.98,342.03 L320.34,342.26 L320.69,342.48 L321.05,342.71 L321.41,342.94 L321.76,343.17 L322.12,343.40 L322.48,343.63 L322.83,343.85 L323.19,344.08 L323.55,344.30 L323.90,344.53 L324.26,344.75 L324.62,344.97 L324.97,345.18 L325.33,345.39 L325.69,345.60 L326.04,345.80 L326.40,346.00 L326.76,346.18 L327.11,346.36 L327.47,346.52 L327.82,346.68 L328.18,346.82 L328.54,346.95 L328.89,347.07 L329.25,347.17 L329.61,347.25 L329.96,347.32 L330.32,347.36 L330.68,347.39 L331.03,347.40 L331.39,347.39 L331.75,347.35 L332.10,347.30 L332.46,347.23 L332.82,347.15 L333.17,347.05 L333.53,346.93 L333.89,346.81 L334.24,346.67 L334.60,346.53 L334.95,346.38 L335.31,346.22 L335.67,346.05 L336.02,345.86 L336.38,345.63 L336.74,345.38 L337.09,345.07 L337.45,344.72 L337.81,344.31 L338.16,343.83 L338.52,343.28 L338.88,342.66 L339.23,341.95 L339.59,341.18 L339.95,340.33 L340.30,339.40 L340.66,338.40 L341.02,337.33 L341.37,336.18 L341.73,334.96 L342.08,333.66 L342.44,332.28 L342.80,330.83 L343.15,329.29 L343.51,327.67 L343.87,325.96 L344.22,324.17 L344.58,322.28 L344.94,320.31 L345.29,318.24 L345.65,316.09 L346.01,313.85 L346.36,311.57 L346.72,309.27 L347.08,306.98 L347.43,304.72 L347.79,302.52 L348.15,300.40 L348.50,298.35 L348.86,296.35 L349.21,294.39 L349.57,292.46 L349.93,290.53 L350.28,288.60 L350.64,286.68 L351.00,284.79 L351.35,282.92 L351.71,281.10 L352.07,279.33 L352.42,277.63 L352.78,276.00 L353.14,274.45 L353.49,272.96 L353.85,271.50 L354.21,270.05 L354.56,268.57 L354.92,267.05 L355.28,265.46 L355.63,263.76 L355.99,261.96 L356.35,260.18 L356.70,258.56 L357.06,257.23 L357.41,256.31 L357.77,255.75 L358.13,255.50 L358.48,255.47 L358.84,255.60 L359.20,255.83 L359.55,256.15 L359.91,256.56 L360.27,257.06 L360.62,257.64 L360.98,258.31 L361.34,259.06 L361.69,259.90 L362.05,260.81 L362.41,261.80 L362.76,262.87 L363.12,264.01 L363.48,265.22 L363.83,266.50 L364.19,267.84 L364.54,269.25 L364.90,270.71 L365.26,272.22 L365.61,273.76 L365.97,275.32 L366.33,276.91 L366.68,278.49 L367.04,280.08 L367.40,281.66 L367.75,283.23 L368.11,284.82 L368.47,286.43 L368.82,288.08 L369.18,289.79 L369.54,291.55 L369.89,293.39 L370.25,295.28 L370.61,297.21 L370.96,299.16 L371.32,301.08 L371.67,302.97 L372.03,304.79 L372.39,306.53 L372.74,308.17 L373.10,309.71 L373.46,311.17 L373.81,312.56 L374.17,313.89 L374.53,315.17 L374.88,316.42 L375.24,317.64 L375.60,318.84 L375.95,320.04 L376.31,321.23 L376.67,322.40 L377.02,323.56 L377.38,324.68 L377.74,325.77 L378.09,326.82 L378.45,327.83 L378.80,328.78 L379.16,329.68 L379.52,330.52 L379.87,331.31 L380.23,332.05 L380.59,332.73 L380.94,333.36 L381.30,333.94 L381.66,334.46 L382.01,334.94 L382.37,335.37 L382.73,335.76 L383.08,336.12 L383.44,336.46 L383.80,336.77 L384.15,337.06 L384.51,337.34 L384.87,337.61 L385.22,337.87 L385.58,338.14 L385.93,338.40 L386.29,338.66 L386.65,338.91 L387.00,339.17 L387.36,339.42 L387.72,339.67 L388.07,339.92 L388.43,340.16 L388.79,340.40 L389.14,340.65 L389.50,340.89 L389.86,341.12 L390.21,341.36 L390.57,341.60 L390.93,341.83 L391.28,342.06 L391.64,342.29 L392.00,342.52 L392.35,342.75 L392.71,342.98 L393.06,343.20 L393.42,343.43 L393.78,343.65 L394.13,343.87 L394.49,344.09 L394.85,344.31 L395.20,344.53 L395.56,344.75 L395.92,344.96 L396.27,345.18 L396.63,345.39 L396.99,345.59 L397.34,345.79 L397.70,345.98 L398.06,346.17 L398.41,346.35 L398.77,346.51 L399.12,346.67 L399.48,346.81 L399.84,346.94 L400.19,347.06 L400.55,347.16 L400.91,347.25 L401.26,347.31 L401.62,347.36 L401.98,347.39 L402.33,347.40 L402.69,347.39 L403.05,347.35 L403.40,347.30 L403.76,347.23 L404.12,347.15 L404.47,347.05 L404.83,346.93 L405.19,346.81 L405.54,346.68 L405.90,346.53 L406.25,346.38 L406.61,346.22 L406.97,346.05 L407.32,345.86 L407.68,345.63 L408.04,345.38 L408.39,345.07 L408.75,344.72 L409.11,344.31 L409.46,343.83 L409.82,343.28 L410.18,342.66 L410.53,341.95 L410.89,341.18 L411.25,340.33 L411.60,339.40 L411.96,338.40 L412.32,337.33 L412.67,336.18 L413.03,334.96 L413.38,333.66 L413.74,332.28 L414.10,330.83 L414.45,329.29 L414.81,327.67 L415.17,325.96 L415.52,324.17 L415.88,322.28 L416.24,320.31 L416.59,318.24 L416.95,316.09 L417.31,313.85 L417.66,311.57 L418.02,309.27 L418.38,306.98 L418.73,304.72 L419.09,302.52 L419.45,300.40 L419.80,298.35 L420.16,296.35 L420.51,294.39 L420.87,292.46 L421.23,290.53 L421.58,288.60 L421.94,286.68 L422.30,284.79 L422.65,282.92 L423.01,281.10 L423.37,279.33 L423.72,277.63 L424.08,276.00 L424.44,274.45 L424.79,272.96 L425.15,271.50 L425.51,270.05 L425.86,268.57 L426.22,267.05 L426.58,265.46 L426.93,263.76 L427.29,261.96 L427.64,260.18 L428.00,258.56 L428.36,257.23 L428.71,256.31 L429.07,255.75 L429.43,255.50 L429.78,255.47 L430.14,255.60 L430.50,255.83 L430.85,256.15 L431.21,256.56 L431.57,257.06 L431.92,257.64 L432.28,258.31 L432.64,259.06 L432.99,259.90 L433.35,260.81 L433.71,261.80 L434.06,262.87 L434.42,264.01 L434.77,265.22 L435.13,266.50 L435.49,267.84 L435.84,269.25 L436.20,270.71 L436.56,272.22 L436.91,273.76 L437.27,275.32 L437.63,276.91 L437.98,278.49 L438.34,280.08 L438.70,281.66 L439.05,283.23 L439.41,284.82 L439.77,286.43 L440.12,288.08 L440.48,289.79 L440.84,291.55 L441.19,293.39 L441.55,295.29 L441.90,297.22 L442.26,299.16 L442.62,301.08 L442.97,302.97 L443.33,304.80 L443.69,306.53 L444.04,308.16 L444.40,309.70 L444.76,311.16 L445.11,312.55 L445.47,313.88 L445.83,315.16 L446.18,316.40 L446.54,317.63 L446.90,318.84 L447.25,320.05 L447.61,321.25 L447.97,322.44 L448.32,323.60 L448.68,324.73 L449.03,325.81 L449.39,326.85 L449.75,327.83 L450.10,328.75 L450.46,329.60 L450.82,330.40 L451.17,331.16 L451.53,331.89 L451.89,332.58 L452.24,333.26 L452.60,333.94" fill="none" stroke="#6cc832" stroke-width="1.5" stroke-linejoin="round" clip-path="url(#cd)" stroke-dasharray="4.7,4.3"/>
<path d="M310.00,349.24 L310.36,348.09 L310.71,346.95 L311.07,345.80 L311.43,344.65 L311.78,343.48 L312.14,342.30 L312.50,341.11 L312.85,339.91 L313.21,338.72 L313.56,337.53 L313.92,336.37 L314.28,335.25 L314.63,334.16 L314.99,333.12 L315.35,332.14 L315.70,331.22 L316.06,330.36 L316.42,329.56 L316.77,328.83 L317.13,328.15 L317.49,327.54 L317.84,327.00 L318.20,326.52 L318.56,326.11 L318.91,325.76 L319.27,325.47 L319.63,325.25 L319.98,325.09 L320.34,324.99 L320.69,324.96 L321.05,324.99 L321.41,325.07 L321.76,325.21 L322.12,325.40 L322.48,325.64 L322.83,325.92 L323.19,326.24 L323.55,326.59 L323.90,326.98 L324.26,327.39 L324.62,327.82 L324.97,328.27 L325.33,328.73 L325.69,329.20 L326.04,329.68 L326.40,330.15 L326.76,330.62 L327.11,331.08 L327.47,331.53 L327.82,331.96 L328.18,332.39 L328.54,332.80 L328.89,333.21 L329.25,333.62 L329.61,334.03 L329.96,334.44 L330.32,334.86 L330.68,335.28 L331.03,335.71 L331.39,336.15 L331.75,336.61 L332.10,337.08 L332.46,337.56 L332.82,338.06 L333.17,338.58 L333.53,339.11 L333.89,339.65 L334.24,340.20 L334.60,340.76 L334.95,341.33 L335.31,341.92 L335.67,342.50 L336.02,343.10 L336.38,343.69 L336.74,344.28 L337.09,344.84 L337.45,345.38 L337.81,345.89 L338.16,346.36 L338.52,346.78 L338.88,347.14 L339.23,347.43 L339.59,347.65 L339.95,347.79 L340.30,347.84 L340.66,347.81 L341.02,347.69 L341.37,347.51 L341.73,347.26 L342.08,346.95 L342.44,346.58 L342.80,346.18 L343.15,345.73 L343.51,345.25 L343.87,344.72 L344.22,344.17 L344.58,343.57 L344.94,342.95 L345.29,342.29 L345.65,341.59 L346.01,340.86 L346.36,340.11 L346.72,339.31 L347.08,338.48 L347.43,337.59 L347.79,336.65 L348.15,335.64 L348.50,334.55 L348.86,333.37 L349.21,332.10 L349.57,330.72 L349.93,329.23 L350.28,327.62 L350.64,325.86 L351.00,323.96 L351.35,321.90 L351.71,319.67 L352.07,317.29 L352.42,314.78 L352.78,312.15 L353.14,309.41 L353.49,306.60 L353.85,303.72 L354.21,300.77 L354.56,297.75 L354.92,294.66 L355.28,291.49 L355.63,288.24 L355.99,284.91 L356.35,281.52 L356.70,278.10 L357.06,274.66 L357.41,271.23 L357.77,267.84 L358.13,264.51 L358.48,261.25 L358.84,258.10 L359.20,255.08 L359.55,252.19 L359.91,249.48 L360.27,246.95 L360.62,244.64 L360.98,242.55 L361.34,240.71 L361.69,239.14 L362.05,237.85 L362.41,236.87 L362.76,236.17 L363.12,235.75 L363.48,235.56 L363.83,235.63 L364.19,235.98 L364.54,236.64 L364.90,237.65 L365.26,239.02 L365.61,240.77 L365.97,242.90 L366.33,245.40 L366.68,248.27 L367.04,251.52 L367.40,255.13 L367.75,259.05 L368.11,263.22 L368.47,267.59 L368.82,272.08 L369.18,276.64 L369.54,281.21 L369.89,285.73 L370.25,290.17 L370.61,294.50 L370.96,298.70 L371.32,302.74 L371.67,306.60 L372.03,310.26 L372.39,313.72 L372.74,316.98 L373.10,320.04 L373.46,322.90 L373.81,325.56 L374.17,328.02 L374.53,330.30 L374.88,332.42 L375.24,334.44 L375.60,336.39 L375.95,338.32 L376.31,340.28 L376.67,342.30 L377.02,344.41 L377.38,346.56 L377.74,348.66 L378.09,350.65 L378.45,352.43 L378.80,353.93 L379.16,355.07 L379.52,355.76 L379.87,355.90 L380.23,355.34 L380.59,353.93 L380.94,351.67 L381.30,349.24 L381.66,347.27 L382.01,345.81 L382.37,344.71 L382.73,343.85 L383.08,343.09 L383.44,342.30 L383.80,341.38 L384.15,340.33 L384.51,339.18 L384.87,337.96 L385.22,336.72 L385.58,335.47 L385.93,334.26 L386.29,333.12 L386.65,332.07 L387.00,331.11 L387.36,330.24 L387.72,329.45 L388.07,328.73 L388.43,328.09 L388.79,327.52 L389.14,327.00 L389.50,326.54 L389.86,326.14 L390.21,325.79 L390.57,325.50 L390.93,325.27 L391.28,325.11 L391.64,325.00 L392.00,324.96 L392.35,324.98 L392.71,325.07 L393.06,325.20 L393.42,325.40 L393.78,325.63 L394.13,325.92 L394.49,326.24 L394.85,326.59 L395.20,326.98 L395.56,327.39 L395.92,327.82 L396.27,328.27 L396.63,328.73 L396.99,329.21 L397.34,329.68 L397.70,330.15 L398.06,330.62 L398.41,331.08 L398.77,331.53 L399.12,331.96 L399.48,332.38 L399.84,332.80 L400.19,333.21 L400.55,333.62 L400.91,334.03 L401.26,334.44 L401.62,334.86 L401.98,335.28 L402.33,335.71 L402.69,336.15 L403.05,336.61 L403.40,337.08 L403.76,337.56 L404.12,338.06 L404.47,338.58 L404.83,339.11 L405.19,339.65 L405.54,340.20 L405.90,340.76 L406.25,341.33 L406.61,341.92 L406.97,342.50 L407.32,343.10 L407.68,343.69 L408.04,344.28 L408.39,344.84 L408.75,345.38 L409.11,345.89 L409.46,346.36 L409.82,346.78 L410.18,347.14 L410.53,347.43 L410.89,347.65 L411.25,347.79 L411.60,347.84 L411.96,347.81 L412.32,347.69 L412.67,347.51 L413.03,347.26 L413.38,346.95 L413.74,346.58 L414.10,346.18 L414.45,345.73 L414.81,345.25 L415.17,344.72 L415.52,344.17 L415.88,343.57 L416.24,342.95 L416.59,342.29 L416.95,341.59 L417.31,340.86 L417.66,340.11 L418.02,339.31 L418.38,338.48 L418.73,337.59 L419.09,336.65 L419.45,335.64 L419.80,334.55 L420.16,333.37 L420.51,332.10 L420.87,330.72 L421.23,329.23 L421.58,327.62 L421.94,325.86 L422.30,323.96 L422.65,321.90 L423.01,319.67 L423.37,317.29 L423.72,314.78 L424.08,312.15 L424.44,309.41 L424.79,306.60 L425.15,303.72 L425.51,300.77 L425.86,297.75 L426.22,294.66 L426.58,291.49 L426.93,288.24 L427.29,284.91 L427.64,281.52 L428.00,278.10 L428.36,274.66 L428.71,271.23 L429.07,267.84 L429.43,264.51 L429.78,261.25 L430.14,258.10 L430.50,255.08 L430.85,252.19 L431.21,249.48 L431.57,246.95 L431.92,244.64 L432.28,242.55 L432.64,240.71 L432.99,239.14 L433.35,237.85 L433.71,236.87 L434.06,236.17 L434.42,235.75 L434.77,235.56 L435.13,235.63 L435.49,235.98 L435.84,236.64 L436.20,237.65 L436.56,239.02 L436.91,240.77 L437.27,242.90 L437.63,245.40 L437.98,248.27 L438.34,251.52 L438.70,255.13 L439.05,259.05 L439.41,263.22 L439.77,267.59 L440.12,272.08 L440.48,276.64 L440.84,281.21 L441.19,285.73 L441.55,290.17 L441.90,294.50 L442.26,298.70 L442.62,302.74 L442.97,306.60 L443.33,310.26 L443.69,313.72 L444.04,316.98 L444.40,320.04 L444.76,322.90 L445.11,325.56 L445.47,328.02 L445.83,330.29 L446.18,332.42 L446.54,334.43 L446.90,336.38 L447.25,338.32 L447.61,340.27 L447.97,342.30 L448.32,344.42 L448.68,346.57 L449.03,348.68 L449.39,350.66 L449.75,352.44 L450.10,353.93 L450.46,355.06 L450.82,355.76 L451.17,355.96 L451.53,355.42 L451.89,353.93 L452.24,351.37 L452.60,348.22" fill="none" stroke="#e8191c" stroke-width="1.6" stroke-linejoin="round" clip-path="url(#cd)"/>
<path d="M310.00,333.12 L310.36,335.76 L310.71,338.46 L311.07,341.28 L311.43,344.12 L311.78,346.33 L312.14,347.09 L312.50,345.72 L312.85,342.48 L313.21,338.05 L313.56,333.12 L313.92,328.26 L314.28,323.59 L314.63,319.15 L314.99,314.96 L315.35,311.02 L315.70,307.39 L316.06,304.15 L316.42,301.45 L316.77,299.41 L317.13,298.17 L317.49,297.84 L317.84,298.31 L318.20,299.37 L318.56,300.85 L318.91,302.52 L319.27,304.23 L319.63,305.95 L319.98,307.67 L320.34,309.41 L320.69,311.15 L321.05,312.90 L321.41,314.63 L321.76,316.33 L322.12,317.95 L322.48,319.48 L322.83,320.88 L323.19,322.13 L323.55,323.25 L323.90,324.25 L324.26,325.16 L324.62,325.98 L324.97,326.74 L325.33,327.46 L325.69,328.16 L326.04,328.85 L326.40,329.52 L326.76,330.19 L327.11,330.84 L327.47,331.48 L327.82,332.10 L328.18,332.71 L328.54,333.29 L328.89,333.87 L329.25,334.44 L329.61,335.00 L329.96,335.56 L330.32,336.11 L330.68,336.66 L331.03,337.22 L331.39,337.78 L331.75,338.33 L332.10,338.88 L332.46,339.41 L332.82,339.92 L333.17,340.41 L333.53,340.87 L333.89,341.30 L334.24,341.69 L334.60,342.06 L334.95,342.41 L335.31,342.74 L335.67,343.06 L336.02,343.37 L336.38,343.69 L336.74,344.01 L337.09,344.33 L337.45,344.67 L337.81,345.00 L338.16,345.32 L338.52,345.62 L338.88,345.89 L339.23,346.14 L339.59,346.34 L339.95,346.49 L340.30,346.58 L340.66,346.60 L341.02,346.56 L341.37,346.43 L341.73,346.23 L342.08,345.97 L342.44,345.64 L342.80,345.26 L343.15,344.82 L343.51,344.34 L343.87,343.81 L344.22,343.24 L344.58,342.63 L344.94,341.96 L345.29,341.25 L345.65,340.49 L346.01,339.69 L346.36,338.83 L346.72,337.93 L347.08,337.00 L347.43,336.05 L347.79,335.07 L348.15,334.10 L348.50,333.12 L348.86,332.15 L349.21,331.15 L349.57,330.09 L349.93,328.94 L350.28,327.66 L350.64,326.23 L351.00,324.59 L351.35,322.73 L351.71,320.63 L352.07,318.31 L352.42,315.82 L352.78,313.18 L353.14,310.43 L353.49,307.62 L353.85,304.76 L354.21,301.86 L354.56,298.90 L354.92,295.89 L355.28,292.80 L355.63,289.63 L355.99,286.37 L356.35,283.06 L356.70,279.70 L357.06,276.33 L357.41,272.96 L357.77,269.64 L358.13,266.37 L358.48,263.18 L358.84,260.09 L359.20,257.12 L359.55,254.30 L359.91,251.64 L360.27,249.17 L360.62,246.90 L360.98,244.85 L361.34,243.05 L361.69,241.51 L362.05,240.25 L362.41,239.28 L362.76,238.60 L363.12,238.18 L363.48,238.01 L363.83,238.07 L364.19,238.41 L364.54,239.06 L364.90,240.05 L365.26,241.39 L365.61,243.11 L365.97,245.19 L366.33,247.64 L366.68,250.46 L367.04,253.64 L367.40,257.18 L367.75,261.02 L368.11,265.11 L368.47,269.39 L368.82,273.79 L369.18,278.26 L369.54,282.74 L369.89,287.17 L370.25,291.52 L370.61,295.76 L370.96,299.87 L371.32,303.84 L371.67,307.62 L372.03,311.21 L372.39,314.60 L372.74,317.79 L373.10,320.79 L373.46,323.59 L373.81,326.20 L374.17,328.61 L374.53,330.84 L374.88,332.92 L375.24,334.90 L375.60,336.81 L375.95,338.71 L376.31,340.62 L376.67,342.61 L377.02,344.68 L377.38,346.78 L377.74,348.84 L378.09,350.78 L378.45,352.53 L378.80,354.00 L379.16,355.12 L379.52,355.80 L379.87,355.94 L380.23,355.39 L380.59,354.00 L380.94,351.79 L381.30,349.40 L381.66,347.48 L382.01,346.04 L382.37,344.97 L382.73,344.12 L383.08,343.38 L383.44,342.61 L383.80,341.70 L384.15,340.67 L384.51,339.54 L384.87,338.36 L385.22,337.14 L385.58,335.92 L385.93,334.73 L386.29,333.61 L386.65,332.58 L387.00,331.64 L387.36,330.78 L387.72,330.01 L388.07,329.31 L388.43,328.68 L388.79,328.12 L389.14,327.61 L389.50,327.16 L389.86,326.77 L390.21,326.43 L390.57,326.14 L390.93,325.92 L391.28,325.76 L391.64,325.65 L392.00,325.61 L392.35,325.63 L392.71,325.72 L393.06,325.85 L393.42,326.04 L393.78,326.27 L394.13,326.55 L394.49,326.86 L394.85,327.21 L395.20,327.59 L395.56,327.99 L395.92,328.42 L396.27,328.86 L396.63,329.31 L396.99,329.77 L397.34,330.24 L397.70,330.70 L398.06,331.16 L398.41,331.61 L398.77,332.05 L399.12,332.47 L399.48,332.89 L399.84,333.30 L400.19,333.70 L400.55,334.10 L400.91,334.50 L401.26,334.91 L401.62,335.31 L401.98,335.73 L402.33,336.15 L402.69,336.58 L403.05,337.03 L403.40,337.49 L403.76,337.96 L404.12,338.45 L404.47,338.96 L404.83,339.48 L405.19,340.01 L405.54,340.55 L405.90,341.10 L406.25,341.66 L406.61,342.23 L406.97,342.81 L407.32,343.39 L407.68,343.97 L408.04,344.54 L408.39,345.10 L408.75,345.63 L409.11,346.13 L409.46,346.58 L409.82,346.99 L410.18,347.35 L410.53,347.63 L410.89,347.85 L411.25,347.99 L411.60,348.04 L411.96,348.00 L412.32,347.89 L412.67,347.71 L413.03,347.46 L413.38,347.16 L413.74,346.80 L414.10,346.40 L414.45,345.97 L414.81,345.49 L415.17,344.98 L415.52,344.44 L415.88,343.85 L416.24,343.24 L416.59,342.59 L416.95,341.91 L417.31,341.20 L417.66,340.46 L418.02,339.68 L418.38,338.86 L418.73,337.99 L419.09,337.07 L419.45,336.08 L419.80,335.01 L420.16,333.86 L420.51,332.61 L420.87,331.26 L421.23,329.80 L421.58,328.22 L421.94,326.50 L422.30,324.63 L422.65,322.61 L423.01,320.43 L423.37,318.10 L423.72,315.63 L424.08,313.05 L424.44,310.38 L424.79,307.62 L425.15,304.80 L425.51,301.91 L425.86,298.95 L426.22,295.92 L426.58,292.81 L426.93,289.63 L427.29,286.36 L427.64,283.04 L428.00,279.69 L428.36,276.32 L428.71,272.96 L429.07,269.64 L429.43,266.37 L429.78,263.18 L430.14,260.09 L430.50,257.13 L430.85,254.30 L431.21,251.64 L431.57,249.17 L431.92,246.90 L432.28,244.85 L432.64,243.05 L432.99,241.51 L433.35,240.25 L433.71,239.28 L434.06,238.60 L434.42,238.18 L434.77,238.01 L435.13,238.07 L435.49,238.41 L435.84,239.06 L436.20,240.05 L436.56,241.40 L436.91,243.11 L437.27,245.19 L437.63,247.64 L437.98,250.46 L438.34,253.64 L438.70,257.18 L439.05,261.02 L439.41,265.11 L439.77,269.38 L440.12,273.79 L440.48,278.26 L440.84,282.74 L441.19,287.17 L441.55,291.52 L441.90,295.77 L442.26,299.88 L442.62,303.84 L442.97,307.62 L443.33,311.20 L443.69,314.58 L444.04,317.77 L444.40,320.76 L444.76,323.56 L445.11,326.18 L445.47,328.61 L445.83,330.87 L446.18,332.99 L446.54,335.00 L446.90,336.93 L447.25,338.82 L447.61,340.70 L447.97,342.61 L448.32,344.55 L448.68,346.50 L449.03,348.40 L449.39,350.18 L449.75,351.80 L450.10,353.19 L450.46,354.28 L450.82,354.98 L451.17,355.16 L451.53,354.62 L451.89,353.19 L452.24,350.77 L452.60,347.81" fill="none" stroke="#0000ff" stroke-width="1.3" stroke-linejoin="round" clip-path="url(#cd)" stroke-opacity="0.62"/>
<path d="M308.64,335.24 H311.94 M310.29,333.59 V336.89 M313.70,311.02 H317.00 M315.35,309.37 V312.67 M318.76,309.75 H322.06 M320.41,308.10 V311.40 M323.82,327.74 H327.12 M325.47,326.09 V329.39 M328.88,336.44 H332.18 M330.53,334.79 V338.09 M333.95,343.00 H337.25 M335.60,341.35 V344.65 M339.01,346.60 H342.31 M340.66,344.95 V348.25 M344.07,340.33 H347.37 M345.72,338.68 V341.98 M349.13,325.57 H352.43 M350.78,323.92 V327.22 M354.20,287.68 H357.50 M355.85,286.03 V289.33 M359.26,245.26 H362.56 M360.91,243.61 V246.91 M364.32,245.19 H367.62 M365.97,243.54 V246.84 M369.38,300.67 H372.68 M371.03,299.02 V302.32 M374.45,339.47 H377.75 M376.10,337.82 V341.12 M379.51,350.36 H382.81 M381.16,348.71 V352.01 M384.57,333.83 H387.87 M386.22,332.18 V335.48 M389.63,325.76 H392.93 M391.28,324.11 V327.41 M394.69,328.95 H397.99 M396.34,327.30 V330.60 M399.76,335.07 H403.06 M401.41,333.42 V336.72 M404.82,342.00 H408.12 M406.47,340.35 V343.65 M409.88,348.03 H413.18 M411.53,346.38 V349.68 M414.94,342.59 H418.24 M416.59,340.94 V344.24 M420.01,327.87 H423.31 M421.66,326.22 V329.52 M425.07,291.54 H428.37 M426.72,289.89 V293.19 M430.13,247.80 H433.43 M431.78,246.15 V249.45 M435.19,242.77 H438.49 M436.84,241.12 V244.42 M440.25,295.77 H443.55 M441.90,294.12 V297.42 M445.32,337.31 H448.62 M446.97,335.66 V338.96 M450.38,352.22 H453.68 M452.03,350.57 V353.87" stroke="#1a1ad0" stroke-width="1.05" fill="none"/>
<line x1="373.20" y1="245.80" x2="389.50" y2="245.80" stroke="#e8191c" stroke-width="1.4"/>
<text x="390.4" y="248.8" font-family='"Liberation Serif", serif' font-size="8.4" text-anchor="start" font-weight="normal" fill="#333333" textLength="37.7" lengthAdjust="spacingAndGlyphs">Healthy Ref</text>
<line x1="373.20" y1="255.60" x2="389.50" y2="255.60" stroke="#6cc832" stroke-width="1.5" stroke-dasharray="4.7,4.3"/>
<text x="390.4" y="258.7" font-family='"Liberation Serif", serif' font-size="8.4" text-anchor="start" font-weight="normal" fill="#333333">Stroke</text>
<line x1="373.20" y1="270.90" x2="389.50" y2="270.90" stroke="#0000ff" stroke-width="1.3" stroke-opacity="0.45"/>
<line x1="381.30" y1="269.10" x2="381.30" y2="272.70" stroke="#1a1ad0" stroke-width="1.1"/>
<line x1="379.50" y1="270.90" x2="383.10" y2="270.90" stroke="#1a1ad0" stroke-width="1.1"/>
<text x="390.4" y="269.1" font-family='"Liberation Serif", serif' font-size="8.4" text-anchor="start" font-weight="normal" fill="#333333">Corrected</text>
<text x="392.6" y="278.1" font-family='"Liberation Serif", serif' font-size="8.4" text-anchor="start" font-weight="normal" fill="#333333">Stroke</text>
<clipPath id="ce"><rect x="510.2" y="232.3" width="162.8" height="130.89999999999998"/></clipPath>
<path d="M510.20,232.30 L510.36,232.18 L510.58,231.83 L510.85,231.40 L511.14,231.03 L511.44,230.86 L511.74,231.03 L512.01,231.68 L512.24,232.95 L512.43,234.91 L512.60,237.42 L512.76,240.39 L512.90,243.71 L513.04,247.29 L513.18,251.01 L513.31,254.77 L513.46,258.48 L513.60,262.31 L513.75,266.43 L513.90,270.74 L514.05,275.12 L514.20,279.47 L514.34,283.67 L514.47,287.62 L514.60,291.20 L514.71,294.49 L514.82,297.61 L514.93,300.55 L515.03,303.31 L515.12,305.87 L515.22,308.22 L515.31,310.36 L515.41,312.28 L515.51,313.93 L515.60,315.30 L515.69,316.43 L515.78,317.37 L515.87,318.15 L515.96,318.83 L516.05,319.43 L516.14,320.00 L516.22,320.49 L516.29,320.83 L516.34,321.05 L516.40,321.19 L516.47,321.27 L516.57,321.31 L516.70,321.36 L516.87,321.44 L517.10,321.51 L517.38,321.53 L517.69,321.51 L518.02,321.48 L518.36,321.47 L518.70,321.48 L519.02,321.55 L519.32,321.70 L519.58,321.93 L519.84,322.20 L520.09,322.52 L520.32,322.87 L520.56,323.26 L520.79,323.68 L521.03,324.13 L521.27,324.58 L521.51,325.14 L521.76,325.84 L522.00,326.61 L522.24,327.38 L522.49,328.09 L522.73,328.67 L522.98,329.05 L523.22,329.17 L523.48,329.00 L523.73,328.62 L524.00,328.07 L524.26,327.37 L524.52,326.56 L524.77,325.70 L525.02,324.81 L525.26,323.93 L525.48,323.01 L525.69,321.98 L525.89,320.89 L526.08,319.75 L526.28,318.60 L526.49,317.48 L526.72,316.41 L526.97,315.42 L527.25,314.45 L527.56,313.43 L527.88,312.41 L528.22,311.45 L528.56,310.57 L528.89,309.84 L529.20,309.31 L529.49,309.01 L529.76,308.98 L530.01,309.19 L530.25,309.60 L530.48,310.14 L530.70,310.79 L530.92,311.48 L531.14,312.17 L531.36,312.80 L531.58,313.45 L531.79,314.17 L532.00,314.95 L532.20,315.74 L532.41,316.53 L532.62,317.28 L532.84,317.97 L533.07,318.56 L533.32,319.08 L533.56,319.56 L533.82,320.00 L534.08,320.39 L534.35,320.73 L534.62,321.02 L534.90,321.26 L535.19,321.44 L535.49,321.56 L535.79,321.62 L536.10,321.62 L536.42,321.57 L536.74,321.49 L537.07,321.36 L537.39,321.22 L537.71,321.05 L538.04,320.84 L538.36,320.57 L538.69,320.26 L539.02,319.93 L539.35,319.59 L539.68,319.26 L540.00,318.95 L540.32,318.69 L540.63,318.48 L540.94,318.30 L541.25,318.14 L541.55,317.99 L541.86,317.85 L542.16,317.71 L542.46,317.55 L542.76,317.38 L543.06,317.22 L543.34,317.08 L543.63,316.94 L543.91,316.79 L544.20,316.62 L544.49,316.41 L544.80,316.14 L545.12,315.81 L545.46,315.41 L545.81,314.95 L546.18,314.44 L546.55,313.88 L546.93,313.30 L547.31,312.70 L547.68,312.10 L548.05,311.49 L548.42,310.89 L548.80,310.26 L549.18,309.61 L549.56,308.95 L549.94,308.28 L550.30,307.61 L550.65,306.93 L550.98,306.26 L551.29,305.59 L551.58,304.92 L551.86,304.25 L552.13,303.58 L552.39,302.89 L552.65,302.20 L552.91,301.49 L553.18,300.76 L553.45,299.99 L553.72,299.17 L554.00,298.33 L554.27,297.48 L554.54,296.65 L554.82,295.86 L555.09,295.12 L555.38,294.48 L555.67,293.89 L555.97,293.32 L556.28,292.80 L556.59,292.33 L556.89,291.92 L557.19,291.58 L557.47,291.34 L557.74,291.20 L557.99,291.21 L558.22,291.37 L558.45,291.64 L558.66,291.98 L558.87,292.35 L559.07,292.69 L559.26,292.98 L559.45,293.17 L559.62,293.24 L559.79,293.22 L559.94,293.15 L560.09,293.05 L560.24,292.98 L560.38,292.95 L560.52,293.00 L560.67,293.17 L560.81,293.52 L560.95,294.04 L561.09,294.68 L561.23,295.34 L561.37,295.98 L561.51,296.51 L561.66,296.86 L561.81,296.96 L561.96,296.81 L562.11,296.46 L562.27,295.96 L562.43,295.34 L562.59,294.64 L562.76,293.91 L562.93,293.19 L563.11,292.51 L563.30,291.80 L563.49,290.96 L563.70,290.06 L563.90,289.16 L564.11,288.32 L564.32,287.60 L564.53,287.06 L564.74,286.75 L564.95,286.73 L565.16,286.93 L565.38,287.31 L565.60,287.81 L565.81,288.37 L566.01,288.95 L566.20,289.47 L566.37,289.90 L566.51,290.27 L566.63,290.68 L566.73,291.10 L566.82,291.49 L566.91,291.84 L567.01,292.13 L567.12,292.31 L567.26,292.38 L567.42,292.31 L567.60,292.13 L567.79,291.84 L567.98,291.49 L568.19,291.10 L568.39,290.68 L568.60,290.27 L568.81,289.90 L569.01,289.47 L569.22,288.95 L569.43,288.38 L569.64,287.82 L569.86,287.32 L570.07,286.94 L570.29,286.73 L570.52,286.75 L570.75,287.11 L570.98,287.78 L571.22,288.67 L571.46,289.65 L571.70,290.63 L571.94,291.48 L572.17,292.10 L572.39,292.38 L572.60,292.32 L572.80,292.01 L572.99,291.51 L573.18,290.87 L573.36,290.14 L573.55,289.37 L573.74,288.62 L573.94,287.93 L574.13,287.20 L574.33,286.31 L574.52,285.36 L574.72,284.41 L574.92,283.54 L575.13,282.82 L575.34,282.34 L575.56,282.17 L575.80,282.33 L576.06,282.74 L576.33,283.36 L576.60,284.15 L576.87,285.06 L577.13,286.05 L577.37,287.07 L577.60,288.06 L577.80,289.08 L577.99,290.17 L578.16,291.32 L578.32,292.53 L578.48,293.79 L578.64,295.08 L578.81,296.41 L578.98,297.75 L579.17,299.14 L579.36,300.61 L579.55,302.12 L579.75,303.67 L579.95,305.21 L580.14,306.74 L580.34,308.23 L580.53,309.66 L580.72,311.06 L580.90,312.45 L581.09,313.82 L581.27,315.17 L581.45,316.47 L581.63,317.72 L581.81,318.90 L581.99,320.00 L582.18,321.07 L582.37,322.15 L582.55,323.20 L582.74,324.17 L582.93,325.03 L583.11,325.74 L583.29,326.26 L583.46,326.55 L583.62,326.61 L583.78,326.49 L583.94,326.19 L584.09,325.73 L584.23,325.13 L584.38,324.40 L584.53,323.56 L584.68,322.62 L584.83,321.51 L584.98,320.19 L585.14,318.70 L585.29,317.12 L585.44,315.48 L585.59,313.85 L585.75,312.28 L585.90,310.84 L586.06,309.36 L586.23,307.73 L586.39,306.05 L586.56,304.43 L586.72,302.99 L586.89,301.82 L587.05,301.04 L587.20,300.76 L587.36,300.99 L587.50,301.64 L587.65,302.64 L587.79,303.94 L587.93,305.47 L588.07,307.18 L588.21,308.99 L588.34,310.84 L588.48,312.82 L588.61,315.03 L588.75,317.42 L588.88,319.94 L589.01,322.55 L589.14,325.20 L589.27,327.86 L589.40,330.47 L589.54,333.35 L589.67,336.66 L589.80,340.16 L589.94,343.61 L590.07,346.76 L590.20,349.39 L590.33,351.24 L590.46,352.07 L590.59,351.71 L590.71,350.31 L590.84,348.12 L590.96,345.41 L591.09,342.42 L591.21,339.42 L591.32,336.66 L591.44,334.40 L591.55,332.48 L591.65,330.57 L591.75,328.71 L591.85,326.93 L591.95,325.27 L592.05,323.76 L592.15,322.43 L592.25,321.31 L592.35,320.45 L592.45,319.81 L592.54,319.37 L592.64,319.07 L592.74,318.87 L592.84,318.73 L592.95,318.60 L593.07,318.43 L593.19,318.24 L593.32,318.07 L593.45,317.94 L593.59,317.84 L593.74,317.81 L593.89,317.84 L594.04,317.96 L594.20,318.17 L594.37,318.50 L594.54,318.93 L594.71,319.46 L594.89,320.05 L595.07,320.69 L595.26,321.34 L595.46,321.99 L595.67,322.62 L595.89,323.28 L596.13,324.02 L596.38,324.80 L596.63,325.57 L596.89,326.31 L597.14,326.96 L597.39,327.49 L597.62,327.86 L597.85,328.02 L598.06,327.99 L598.27,327.83 L598.47,327.59 L598.68,327.32 L598.89,327.09 L599.11,326.95 L599.33,326.94 L599.57,327.09 L599.83,327.37 L600.09,327.71 L600.36,328.09 L600.62,328.47 L600.88,328.80 L601.13,329.05 L601.37,329.17 L601.59,329.11 L601.79,328.91 L601.98,328.60 L602.17,328.26 L602.36,327.93 L602.55,327.67 L602.76,327.54 L603.00,327.60 L603.25,327.92 L603.54,328.49 L603.84,329.22 L604.14,330.00 L604.45,330.75 L604.74,331.36 L605.02,331.73 L605.28,331.78 L605.50,331.51 L605.71,330.99 L605.90,330.28 L606.08,329.42 L606.26,328.44 L606.44,327.39 L606.63,326.31 L606.82,325.24 L607.03,324.07 L607.25,322.71 L607.48,321.25 L607.71,319.75 L607.94,318.29 L608.15,316.95 L608.35,315.79 L608.53,314.90 L608.68,314.31 L608.81,313.97 L608.91,313.82 L609.01,313.78 L609.11,313.79 L609.22,313.78 L609.35,313.70 L609.51,313.46 L609.70,313.04 L609.92,312.48 L610.17,311.85 L610.42,311.20 L610.67,310.59 L610.93,310.06 L611.16,309.69 L611.38,309.53 L611.58,309.58 L611.76,309.78 L611.93,310.12 L612.10,310.55 L612.26,311.07 L612.42,311.63 L612.59,312.22 L612.76,312.80 L612.94,313.45 L613.13,314.20 L613.31,315.02 L613.50,315.87 L613.68,316.71 L613.87,317.48 L614.05,318.16 L614.23,318.69 L614.40,319.08 L614.57,319.34 L614.74,319.51 L614.90,319.63 L615.07,319.70 L615.24,319.77 L615.42,319.86 L615.61,320.00 L615.81,320.19 L616.02,320.41 L616.23,320.63 L616.45,320.85 L616.68,321.06 L616.91,321.24 L617.15,321.37 L617.40,321.44 L617.66,321.45 L617.94,321.42 L618.22,321.33 L618.50,321.22 L618.79,321.09 L619.09,320.94 L619.39,320.80 L619.68,320.66 L619.98,320.53 L620.28,320.39 L620.59,320.25 L620.89,320.10 L621.20,319.94 L621.51,319.76 L621.82,319.57 L622.12,319.35 L622.43,319.10 L622.73,318.83 L623.04,318.53 L623.34,318.22 L623.65,317.90 L623.95,317.59 L624.26,317.28 L624.57,316.99 L624.87,316.73 L625.18,316.50 L625.48,316.29 L625.78,316.07 L626.09,315.83 L626.41,315.57 L626.74,315.26 L627.09,314.90 L627.46,314.47 L627.84,313.98 L628.24,313.46 L628.65,312.90 L629.06,312.32 L629.47,311.74 L629.88,311.15 L630.26,310.58 L630.65,310.01 L631.04,309.44 L631.43,308.86 L631.82,308.27 L632.19,307.68 L632.55,307.08 L632.89,306.48 L633.20,305.87 L633.47,305.26 L633.71,304.65 L633.93,304.04 L634.13,303.42 L634.33,302.79 L634.53,302.14 L634.75,301.46 L634.99,300.76 L635.25,300.00 L635.54,299.17 L635.84,298.31 L636.14,297.43 L636.44,296.57 L636.74,295.75 L637.01,295.00 L637.27,294.35 L637.49,293.75 L637.68,293.18 L637.85,292.65 L638.02,292.18 L638.19,291.78 L638.37,291.47 L638.57,291.27 L638.81,291.20 L639.09,291.34 L639.41,291.71 L639.74,292.23 L640.09,292.82 L640.45,293.40 L640.79,293.90 L641.12,294.24 L641.42,294.35 L641.68,294.21 L641.92,293.90 L642.14,293.47 L642.35,292.93 L642.57,292.34 L642.79,291.72 L643.02,291.11 L643.29,290.55 L643.58,289.94 L643.91,289.19 L644.24,288.38 L644.59,287.58 L644.94,286.87 L645.28,286.31 L645.60,285.99 L645.89,285.97 L646.16,286.37 L646.41,287.17 L646.64,288.24 L646.87,289.45 L647.08,290.67 L647.30,291.76 L647.53,292.59 L647.77,293.04 L648.01,293.08 L648.27,292.84 L648.52,292.39 L648.78,291.79 L649.04,291.10 L649.30,290.41 L649.55,289.77 L649.80,289.24 L650.04,288.74 L650.27,288.16 L650.49,287.55 L650.71,286.97 L650.93,286.46 L651.16,286.09 L651.41,285.91 L651.67,285.97 L651.96,286.38 L652.28,287.15 L652.61,288.14 L652.95,289.25 L653.28,290.35 L653.61,291.32 L653.92,292.04 L654.20,292.38 L654.45,292.36 L654.68,292.07 L654.89,291.57 L655.09,290.92 L655.29,290.17 L655.49,289.39 L655.69,288.63 L655.91,287.93 L656.13,287.17 L656.35,286.22 L656.58,285.19 L656.81,284.17 L657.05,283.26 L657.28,282.56 L657.53,282.16 L657.78,282.17 L658.04,282.62 L658.32,283.41 L658.60,284.50 L658.89,285.80 L659.18,287.25 L659.46,288.79 L659.73,290.35 L659.98,291.86 L660.21,293.43 L660.44,295.18 L660.66,297.03 L660.87,298.92 L661.07,300.79 L661.26,302.57 L661.44,304.20 L661.60,305.60 L661.75,306.74 L661.88,307.65 L662.00,308.41 L662.10,309.07 L662.21,309.72 L662.32,310.43 L662.44,311.26 L662.58,312.28 L662.74,313.55 L662.92,315.01 L663.11,316.59 L663.30,318.24 L663.49,319.86 L663.69,321.40 L663.87,322.78 L664.05,323.93 L664.21,324.96 L664.36,325.97 L664.51,326.91 L664.66,327.73 L664.80,328.35 L664.95,328.73 L665.10,328.80 L665.27,328.51 L665.44,327.79 L665.61,326.67 L665.79,325.22 L665.98,323.54 L666.17,321.70 L666.35,319.79 L666.54,317.88 L666.73,316.08 L666.92,314.13 L667.12,311.89 L667.32,309.49 L667.52,307.09 L667.71,304.87 L667.91,302.96 L668.10,301.54 L668.28,300.76 L668.45,300.65 L668.62,301.07 L668.79,301.92 L668.95,303.13 L669.11,304.58 L669.27,306.19 L669.42,307.88 L669.58,309.53 L669.74,311.27 L669.89,313.24 L670.05,315.37 L670.20,317.61 L670.35,319.90 L670.50,322.19 L670.65,324.43 L670.80,326.55 L670.95,328.63 L671.09,330.75 L671.24,332.88 L671.38,334.97 L671.52,337.00 L671.66,338.91 L671.80,340.68 L671.94,342.26 L672.09,343.67 L672.24,344.96 L672.39,346.12 L672.54,347.16 L672.68,348.09 L672.81,348.88 L672.92,349.56 L673.00,350.11" fill="none" stroke="#0072bd" stroke-width="1.3" stroke-linejoin="round" clip-path="url(#ce)"/>
<path d="M510.20,232.30 L510.28,232.20 L510.38,231.83 L510.50,231.37 L510.64,230.99 L510.78,230.86 L510.92,231.13 L511.06,232.00 L511.18,233.61 L511.29,236.04 L511.39,239.16 L511.49,242.84 L511.59,246.94 L511.69,251.35 L511.79,255.91 L511.89,260.52 L511.99,265.02 L512.09,269.69 L512.19,274.75 L512.29,280.04 L512.39,285.40 L512.49,290.66 L512.60,295.67 L512.70,300.27 L512.80,304.30 L512.91,307.79 L513.02,310.94 L513.13,313.77 L513.24,316.30 L513.35,318.55 L513.47,320.56 L513.58,322.34 L513.70,323.93 L513.82,325.25 L513.93,326.26 L514.05,326.99 L514.17,327.51 L514.29,327.84 L514.41,328.04 L514.54,328.17 L514.68,328.25 L514.82,328.24 L514.96,328.08 L515.11,327.78 L515.27,327.38 L515.42,326.90 L515.58,326.37 L515.74,325.80 L515.90,325.24 L516.05,324.66 L516.20,324.03 L516.35,323.36 L516.50,322.64 L516.66,321.88 L516.83,321.07 L517.01,320.23 L517.20,319.35 L517.41,318.38 L517.64,317.32 L517.88,316.18 L518.13,315.02 L518.38,313.87 L518.64,312.76 L518.90,311.74 L519.15,310.84 L519.42,310.02 L519.69,309.24 L519.97,308.50 L520.25,307.82 L520.53,307.23 L520.79,306.74 L521.04,306.36 L521.27,306.13 L521.47,306.06 L521.65,306.17 L521.82,306.41 L521.97,306.75 L522.12,307.14 L522.27,307.54 L522.42,307.91 L522.57,308.22 L522.73,308.53 L522.89,308.91 L523.05,309.31 L523.20,309.69 L523.36,310.03 L523.53,310.27 L523.70,310.38 L523.88,310.32 L524.06,310.08 L524.25,309.71 L524.45,309.22 L524.65,308.63 L524.86,307.96 L525.07,307.22 L525.29,306.43 L525.50,305.60 L525.72,304.70 L525.94,303.67 L526.17,302.55 L526.39,301.39 L526.63,300.21 L526.87,299.06 L527.12,297.96 L527.38,296.96 L527.65,295.98 L527.95,294.95 L528.26,293.91 L528.57,292.93 L528.88,292.05 L529.19,291.33 L529.47,290.81 L529.74,290.55 L529.97,290.57 L530.19,290.82 L530.39,291.27 L530.58,291.88 L530.77,292.61 L530.96,293.43 L531.15,294.28 L531.36,295.13 L531.58,296.05 L531.81,297.10 L532.03,298.25 L532.26,299.44 L532.50,300.66 L532.74,301.85 L532.98,302.99 L533.24,304.03 L533.50,305.00 L533.77,305.95 L534.04,306.87 L534.32,307.75 L534.61,308.59 L534.89,309.39 L535.16,310.14 L535.43,310.84 L535.70,311.48 L535.96,312.05 L536.21,312.58 L536.47,313.07 L536.72,313.52 L536.97,313.94 L537.22,314.36 L537.47,314.77 L537.71,315.11 L537.94,315.36 L538.16,315.56 L538.39,315.75 L538.62,315.98 L538.87,316.30 L539.13,316.75 L539.42,317.38 L539.74,318.22 L540.09,319.22 L540.46,320.35 L540.84,321.57 L541.22,322.83 L541.61,324.11 L541.99,325.36 L542.35,326.55 L542.71,327.69 L543.05,328.86 L543.40,330.02 L543.74,331.18 L544.08,332.32 L544.42,333.44 L544.77,334.53 L545.12,335.58 L545.48,336.58 L545.84,337.55 L546.20,338.48 L546.56,339.39 L546.93,340.28 L547.30,341.16 L547.67,342.04 L548.05,342.91 L548.45,343.80 L548.86,344.70 L549.29,345.59 L549.71,346.48 L550.13,347.33 L550.53,348.14 L550.90,348.90 L551.23,349.59 L551.51,350.21 L551.76,350.78 L551.98,351.30 L552.18,351.78 L552.36,352.21 L552.55,352.60 L552.74,352.95 L552.93,353.25 L553.14,353.50 L553.34,353.69 L553.53,353.83 L553.72,353.93 L553.92,354.00 L554.12,354.06 L554.34,354.11 L554.56,354.17 L554.80,354.22 L555.05,354.27 L555.31,354.29 L555.58,354.31 L555.85,354.31 L556.12,354.31 L556.40,354.31 L556.68,354.30 L556.97,354.29 L557.26,354.28 L557.57,354.26 L557.87,354.24 L558.18,354.21 L558.48,354.17 L558.77,354.11 L559.04,354.04 L559.30,353.97 L559.55,353.92 L559.79,353.87 L560.02,353.80 L560.25,353.70 L560.47,353.54 L560.69,353.31 L560.91,352.99 L561.13,352.58 L561.33,352.09 L561.53,351.54 L561.73,350.94 L561.93,350.28 L562.13,349.59 L562.33,348.88 L562.54,348.15 L562.76,347.28 L562.99,346.22 L563.22,345.06 L563.45,343.90 L563.68,342.84 L563.91,341.97 L564.13,341.40 L564.33,341.21 L564.52,341.48 L564.71,342.16 L564.89,343.13 L565.06,344.29 L565.23,345.55 L565.39,346.78 L565.55,347.90 L565.71,348.80 L565.87,349.53 L566.03,350.21 L566.17,350.85 L566.32,351.44 L566.47,351.97 L566.62,352.45 L566.77,352.88 L566.94,353.25 L567.10,353.55 L567.27,353.78 L567.44,353.95 L567.62,354.07 L567.80,354.15 L567.99,354.21 L568.19,354.25 L568.40,354.30 L568.63,354.33 L568.87,354.34 L569.12,354.32 L569.38,354.28 L569.65,354.23 L569.91,354.17 L570.18,354.10 L570.44,354.04 L570.70,353.98 L570.97,353.92 L571.24,353.86 L571.51,353.78 L571.78,353.69 L572.03,353.58 L572.26,353.43 L572.47,353.25 L572.65,353.06 L572.80,352.87 L572.94,352.67 L573.06,352.44 L573.18,352.16 L573.29,351.79 L573.40,351.34 L573.53,350.76 L573.66,350.09 L573.78,349.35 L573.90,348.52 L574.02,347.61 L574.14,346.62 L574.28,345.53 L574.42,344.34 L574.59,343.04 L574.77,341.50 L574.97,339.66 L575.18,337.65 L575.41,335.58 L575.63,333.58 L575.86,331.76 L576.08,330.25 L576.30,329.17 L576.50,328.54 L576.71,328.28 L576.92,328.29 L577.12,328.50 L577.32,328.84 L577.53,329.22 L577.73,329.58 L577.92,329.82 L578.12,330.03 L578.32,330.31 L578.51,330.63 L578.70,330.97 L578.90,331.28 L579.09,331.54 L579.28,331.72 L579.47,331.78 L579.67,331.73 L579.87,331.57 L580.08,331.34 L580.28,331.05 L580.48,330.73 L580.67,330.40 L580.85,330.09 L581.02,329.82 L581.17,329.61 L581.30,329.44 L581.42,329.29 L581.54,329.13 L581.65,328.93 L581.76,328.67 L581.87,328.32 L581.99,327.86 L582.12,327.26 L582.26,326.56 L582.39,325.76 L582.52,324.90 L582.66,324.01 L582.79,323.09 L582.92,322.19 L583.05,321.31 L583.17,320.48 L583.28,319.69 L583.39,318.90 L583.49,318.09 L583.60,317.24 L583.72,316.34 L583.87,315.34 L584.03,314.24 L584.22,313.00 L584.43,311.62 L584.67,310.14 L584.91,308.61 L585.16,307.06 L585.41,305.53 L585.66,304.08 L585.90,302.72 L586.14,301.37 L586.38,299.92 L586.62,298.46 L586.86,297.07 L587.10,295.82 L587.33,294.79 L587.56,294.05 L587.77,293.69 L587.98,293.77 L588.19,294.22 L588.38,294.98 L588.57,295.96 L588.76,297.07 L588.95,298.23 L589.13,299.36 L589.32,300.37 L589.51,301.44 L589.71,302.74 L589.91,304.13 L590.11,305.51 L590.30,306.76 L590.48,307.75 L590.64,308.36 L590.79,308.48 L590.91,308.03 L591.01,307.07 L591.10,305.74 L591.17,304.16 L591.24,302.44 L591.30,300.72 L591.37,299.11 L591.44,297.75 L591.50,296.56 L591.56,295.41 L591.60,294.28 L591.65,293.19 L591.70,292.14 L591.76,291.13 L591.83,290.16 L591.93,289.24 L592.04,288.36 L592.16,287.51 L592.31,286.69 L592.45,285.92 L592.61,285.20 L592.77,284.52 L592.92,283.91 L593.07,283.35 L593.21,282.83 L593.34,282.34 L593.48,281.89 L593.61,281.50 L593.75,281.19 L593.90,280.96 L594.05,280.85 L594.20,280.86 L594.37,281.02 L594.54,281.30 L594.71,281.69 L594.89,282.18 L595.07,282.74 L595.26,283.35 L595.46,284.00 L595.67,284.66 L595.89,285.40 L596.11,286.27 L596.35,287.22 L596.59,288.20 L596.83,289.17 L597.09,290.06 L597.35,290.85 L597.62,291.47 L597.91,291.93 L598.23,292.29 L598.55,292.56 L598.89,292.75 L599.21,292.88 L599.52,292.96 L599.81,293.01 L600.07,293.04 L600.28,292.98 L600.45,292.80 L600.59,292.53 L600.72,292.24 L600.85,291.98 L600.99,291.80 L601.16,291.74 L601.37,291.86 L601.61,292.16 L601.88,292.60 L602.16,293.14 L602.47,293.77 L602.78,294.47 L603.10,295.20 L603.41,295.96 L603.73,296.70 L604.05,297.56 L604.39,298.59 L604.73,299.71 L605.08,300.84 L605.42,301.89 L605.75,302.76 L606.06,303.37 L606.33,303.64 L606.58,303.52 L606.79,303.08 L606.99,302.39 L607.17,301.52 L607.35,300.55 L607.52,299.55 L607.69,298.59 L607.88,297.75 L608.07,296.97 L608.27,296.15 L608.46,295.31 L608.65,294.48 L608.85,293.66 L609.04,292.87 L609.23,292.14 L609.43,291.47 L609.62,290.82 L609.82,290.17 L610.01,289.54 L610.21,288.96 L610.41,288.45 L610.60,288.05 L610.79,287.78 L610.97,287.67 L611.16,287.75 L611.33,287.99 L611.51,288.36 L611.69,288.84 L611.86,289.39 L612.03,289.99 L612.19,290.61 L612.36,291.20 L612.51,291.80 L612.66,292.44 L612.79,293.10 L612.93,293.81 L613.07,294.54 L613.23,295.32 L613.39,296.12 L613.58,296.96 L613.78,297.86 L613.99,298.80 L614.20,299.79 L614.43,300.81 L614.68,301.85 L614.94,302.89 L615.22,303.93 L615.53,304.95 L615.87,305.98 L616.25,307.05 L616.66,308.13 L617.08,309.21 L617.50,310.27 L617.92,311.27 L618.33,312.21 L618.71,313.07 L619.06,313.78 L619.39,314.37 L619.71,314.87 L620.03,315.34 L620.34,315.81 L620.66,316.35 L620.98,316.99 L621.31,317.78 L621.65,318.73 L622.00,319.80 L622.36,320.96 L622.72,322.19 L623.07,323.45 L623.44,324.73 L623.80,325.99 L624.16,327.20 L624.52,328.41 L624.89,329.63 L625.26,330.87 L625.63,332.10 L626.00,333.32 L626.37,334.51 L626.73,335.66 L627.09,336.76 L627.44,337.80 L627.79,338.79 L628.13,339.74 L628.47,340.67 L628.82,341.57 L629.16,342.46 L629.51,343.34 L629.86,344.22 L630.22,345.12 L630.58,346.04 L630.95,346.96 L631.32,347.86 L631.69,348.72 L632.06,349.53 L632.43,350.26 L632.79,350.90 L633.14,351.43 L633.49,351.88 L633.83,352.27 L634.17,352.59 L634.51,352.86 L634.85,353.10 L635.20,353.31 L635.56,353.51 L635.93,353.69 L636.31,353.82 L636.70,353.92 L637.09,353.99 L637.48,354.03 L637.86,354.05 L638.22,354.05 L638.57,354.04 L638.89,354.02 L639.21,353.99 L639.51,353.94 L639.80,353.87 L640.08,353.78 L640.35,353.64 L640.61,353.47 L640.85,353.25 L641.07,353.00 L641.27,352.73 L641.46,352.44 L641.64,352.10 L641.80,351.71 L641.97,351.25 L642.14,350.73 L642.31,350.11 L642.49,349.34 L642.66,348.40 L642.83,347.35 L642.99,346.26 L643.16,345.18 L643.33,344.17 L643.51,343.31 L643.70,342.65 L643.89,342.16 L644.10,341.77 L644.31,341.49 L644.52,341.30 L644.73,341.20 L644.94,341.20 L645.14,341.29 L645.32,341.47 L645.50,341.77 L645.66,342.22 L645.82,342.78 L645.97,343.43 L646.12,344.12 L646.26,344.83 L646.40,345.53 L646.54,346.18 L646.68,346.83 L646.81,347.52 L646.94,348.23 L647.06,348.95 L647.19,349.64 L647.32,350.30 L647.46,350.90 L647.60,351.42 L647.76,351.86 L647.93,352.26 L648.10,352.60 L648.27,352.90 L648.45,353.16 L648.63,353.39 L648.81,353.59 L648.99,353.78 L649.16,353.92 L649.33,354.03 L649.50,354.10 L649.67,354.14 L649.85,354.16 L650.02,354.17 L650.19,354.17 L650.37,354.17 L650.55,354.15 L650.73,354.12 L650.91,354.07 L651.09,354.00 L651.27,353.94 L651.46,353.87 L651.64,353.82 L651.84,353.78 L652.03,353.77 L652.23,353.80 L652.43,353.86 L652.64,353.91 L652.85,353.93 L653.05,353.91 L653.26,353.82 L653.46,353.64 L653.67,353.42 L653.88,353.20 L654.09,352.95 L654.29,352.63 L654.50,352.22 L654.70,351.68 L654.90,350.99 L655.09,350.11 L655.27,348.98 L655.44,347.59 L655.59,346.03 L655.75,344.35 L655.91,342.63 L656.08,340.94 L656.27,339.35 L656.48,337.94 L656.71,336.61 L656.98,335.27 L657.26,333.96 L657.55,332.71 L657.85,331.57 L658.14,330.57 L658.42,329.76 L658.67,329.17 L658.91,328.85 L659.14,328.78 L659.36,328.92 L659.57,329.19 L659.78,329.54 L659.98,329.91 L660.18,330.24 L660.38,330.47 L660.58,330.67 L660.78,330.91 L660.97,331.17 L661.17,331.42 L661.36,331.63 L661.55,331.78 L661.74,331.84 L661.93,331.78 L662.13,331.60 L662.32,331.32 L662.52,330.95 L662.72,330.52 L662.92,330.04 L663.11,329.53 L663.30,329.01 L663.48,328.51 L663.64,328.01 L663.81,327.50 L663.96,326.96 L664.11,326.41 L664.26,325.83 L664.41,325.23 L664.55,324.59 L664.70,323.93 L664.84,323.27 L664.97,322.64 L665.10,322.01 L665.23,321.34 L665.36,320.60 L665.50,319.75 L665.66,318.78 L665.84,317.65 L666.04,316.29 L666.25,314.72 L666.49,313.00 L666.73,311.19 L666.97,309.35 L667.22,307.55 L667.47,305.84 L667.71,304.30 L667.95,302.79 L668.19,301.21 L668.44,299.64 L668.69,298.14 L668.93,296.81 L669.16,295.70 L669.38,294.90 L669.58,294.48 L669.76,294.49 L669.93,294.90 L670.09,295.62 L670.23,296.56 L670.37,297.66 L670.51,298.82 L670.65,299.97 L670.80,301.02 L670.96,302.16 L671.12,303.54 L671.29,305.04 L671.45,306.54 L671.61,307.93 L671.76,309.08 L671.90,309.87 L672.02,310.19 L672.13,309.95 L672.23,309.25 L672.32,308.20 L672.40,306.91 L672.48,305.50 L672.55,304.08 L672.61,302.77 L672.67,301.68 L672.73,300.72 L672.79,299.75 L672.83,298.79 L672.88,297.87 L672.92,297.02 L672.95,296.26 L672.98,295.62 L673.00,295.13" fill="none" stroke="#e8642a" stroke-width="1.3" stroke-linejoin="round" clip-path="url(#ce)"/>
<path d="M510.20,267.64 L510.40,353.64 L554.40,353.64 L554.94,352.33 L555.47,350.56 L556.01,348.81 L556.54,347.35 L557.08,346.39 L557.62,346.05 L558.15,346.39 L558.69,347.35 L559.22,348.81 L559.76,350.56 L560.29,352.33 L560.83,353.64 L569.13,353.64 L569.38,352.63 L569.62,351.25 L569.87,349.89 L570.11,348.76 L570.35,348.01 L570.60,347.75 L570.84,348.01 L571.09,348.76 L571.33,349.89 L571.58,351.25 L571.82,352.63 L572.06,353.64 L636.86,353.64 L637.20,352.31 L637.54,350.51 L637.88,348.72 L638.22,347.24 L638.55,346.26 L638.89,345.92 L639.23,346.26 L639.57,347.24 L639.91,348.72 L640.25,350.51 L640.59,352.31 L640.93,353.64 L650.86,353.64 L651.10,352.63 L651.33,351.25 L651.57,349.89 L651.81,348.76 L652.05,348.01 L652.28,347.75 L652.52,348.01 L652.76,348.76 L653.00,349.89 L653.23,351.25 L653.47,352.63 L653.71,353.64 L673.00,353.64" fill="none" stroke="#edb120" stroke-width="1.3" stroke-linejoin="round" clip-path="url(#ce)"/>
<path d="M510.20,353.78 L510.24,352.48 L510.29,350.77 L510.34,348.73 L510.41,346.46 L510.48,344.06 L510.55,341.62 L510.62,339.24 L510.69,337.02 L510.76,334.82 L510.83,332.49 L510.90,330.11 L510.97,327.75 L511.04,325.49 L511.11,323.39 L511.19,321.54 L511.26,320.00 L511.32,318.77 L511.37,317.77 L511.41,316.97 L511.45,316.36 L511.51,315.92 L511.58,315.63 L511.69,315.47 L511.83,315.42 L512.01,315.56 L512.23,315.94 L512.48,316.51 L512.75,317.20 L513.03,317.95 L513.31,318.71 L513.59,319.41 L513.86,320.00 L514.12,320.51 L514.37,320.99 L514.62,321.45 L514.88,321.90 L515.13,322.34 L515.40,322.78 L515.68,323.22 L515.98,323.67 L516.29,324.12 L516.62,324.57 L516.97,325.01 L517.32,325.46 L517.67,325.90 L518.03,326.34 L518.39,326.77 L518.75,327.20 L519.10,327.64 L519.45,328.09 L519.81,328.54 L520.17,328.98 L520.52,329.40 L520.88,329.80 L521.24,330.16 L521.60,330.47 L521.95,330.73 L522.30,330.93 L522.65,331.09 L523.01,331.22 L523.36,331.34 L523.72,331.47 L524.08,331.61 L524.44,331.78 L524.82,331.97 L525.21,332.15 L525.60,332.34 L525.99,332.53 L526.39,332.74 L526.78,332.99 L527.16,333.28 L527.54,333.62 L527.91,334.01 L528.27,334.45 L528.62,334.94 L528.98,335.45 L529.33,335.99 L529.68,336.54 L530.03,337.11 L530.39,337.67 L530.74,338.24 L531.10,338.83 L531.45,339.42 L531.80,340.03 L532.16,340.66 L532.51,341.30 L532.87,341.96 L533.24,342.65 L533.61,343.37 L533.98,344.13 L534.36,344.92 L534.75,345.72 L535.13,346.53 L535.51,347.32 L535.88,348.08 L536.25,348.80 L536.60,349.51 L536.95,350.23 L537.30,350.95 L537.64,351.64 L537.98,352.29 L538.32,352.87 L538.66,353.37 L539.02,353.78 L539.37,354.06 L539.74,354.24 L540.10,354.34 L540.47,354.38 L540.84,354.37 L541.21,354.35 L541.58,354.31 L541.95,354.30 L542.31,354.30 L542.68,354.31 L543.05,354.31 L543.42,354.28 L543.79,354.23 L544.16,354.13 L544.52,353.99 L544.88,353.78 L545.23,353.50 L545.57,353.15 L545.90,352.76 L546.24,352.33 L546.58,351.86 L546.92,351.37 L547.28,350.87 L547.64,350.37 L548.03,349.87 L548.43,349.35 L548.84,348.81 L549.25,348.25 L549.67,347.68 L550.09,347.07 L550.50,346.45 L550.90,345.79 L551.29,345.10 L551.68,344.37 L552.07,343.61 L552.46,342.83 L552.84,342.03 L553.22,341.23 L553.61,340.43 L553.99,339.64 L554.38,338.84 L554.77,338.01 L555.17,337.18 L555.56,336.34 L555.95,335.52 L556.34,334.71 L556.72,333.95 L557.09,333.22 L557.45,332.55 L557.80,331.92 L558.14,331.33 L558.48,330.75 L558.82,330.19 L559.16,329.64 L559.50,329.08 L559.85,328.51 L560.22,327.94 L560.60,327.37 L560.99,326.81 L561.38,326.25 L561.76,325.69 L562.13,325.12 L562.47,324.53 L562.78,323.93 L563.06,323.32 L563.32,322.70 L563.55,322.07 L563.76,321.43 L563.97,320.78 L564.17,320.11 L564.37,319.42 L564.58,318.69 L564.79,317.93 L565.00,317.13 L565.22,316.31 L565.42,315.46 L565.63,314.61 L565.83,313.77 L566.02,312.94 L566.20,312.15 L566.38,311.39 L566.54,310.65 L566.69,309.92 L566.84,309.20 L566.99,308.49 L567.13,307.76 L567.28,307.02 L567.42,306.26 L567.57,305.48 L567.71,304.68 L567.84,303.88 L567.98,303.07 L568.12,302.24 L568.26,301.41 L568.41,300.57 L568.56,299.71 L568.73,298.82 L568.90,297.87 L569.08,296.89 L569.26,295.92 L569.44,294.96 L569.63,294.06 L569.83,293.24 L570.03,292.51 L570.24,291.86 L570.46,291.24 L570.69,290.66 L570.92,290.15 L571.16,289.72 L571.39,289.39 L571.61,289.18 L571.82,289.11 L572.02,289.20 L572.22,289.45 L572.41,289.83 L572.59,290.31 L572.77,290.84 L572.95,291.41 L573.12,291.98 L573.28,292.51 L573.43,292.99 L573.55,293.44 L573.66,293.88 L573.76,294.35 L573.88,294.89 L574.02,295.53 L574.20,296.30 L574.42,297.23 L574.71,298.35 L575.04,299.65 L575.40,301.09 L575.79,302.63 L576.19,304.21 L576.59,305.81 L576.98,307.38 L577.36,308.88 L577.71,310.33 L578.05,311.78 L578.40,313.24 L578.74,314.69 L579.08,316.14 L579.42,317.57 L579.77,318.99 L580.12,320.40 L580.48,321.78 L580.84,323.14 L581.21,324.49 L581.57,325.83 L581.94,327.16 L582.31,328.48 L582.68,329.81 L583.05,331.13 L583.43,332.46 L583.83,333.80 L584.23,335.13 L584.64,336.46 L585.03,337.78 L585.40,339.08 L585.75,340.36 L586.06,341.60 L586.35,342.85 L586.60,344.13 L586.83,345.42 L587.05,346.67 L587.24,347.86 L587.43,348.96 L587.60,349.93 L587.77,350.76 L587.92,351.43 L588.03,351.96 L588.13,352.38 L588.21,352.70 L588.30,352.96 L588.42,353.16 L588.56,353.34 L588.75,353.51 L589.00,353.69 L589.30,353.85 L589.63,353.97 L589.98,354.05 L590.33,354.07 L590.68,354.02 L591.00,353.88 L591.27,353.64 L591.51,353.28 L591.73,352.79 L591.92,352.21 L592.10,351.56 L592.27,350.86 L592.45,350.16 L592.63,349.46 L592.82,348.80 L593.02,348.17 L593.20,347.55 L593.38,346.92 L593.57,346.29 L593.77,345.64 L593.99,344.98 L594.24,344.28 L594.53,343.56 L594.87,342.78 L595.25,341.92 L595.66,341.02 L596.09,340.11 L596.53,339.23 L596.97,338.39 L597.39,337.65 L597.79,337.02 L598.15,336.51 L598.50,336.10 L598.84,335.76 L599.18,335.48 L599.51,335.25 L599.84,335.04 L600.19,334.85 L600.55,334.66 L600.93,334.48 L601.32,334.33 L601.73,334.21 L602.13,334.11 L602.54,334.03 L602.94,333.96 L603.34,333.92 L603.73,333.88 L604.11,333.86 L604.48,333.86 L604.84,333.88 L605.20,333.91 L605.56,333.96 L605.93,334.01 L606.29,334.08 L606.66,334.14 L607.03,334.19 L607.41,334.22 L607.79,334.25 L608.16,334.30 L608.54,334.37 L608.92,334.49 L609.30,334.67 L609.67,334.93 L610.04,335.27 L610.41,335.69 L610.78,336.17 L611.14,336.70 L611.51,337.26 L611.87,337.84 L612.24,338.42 L612.60,338.98 L612.97,339.55 L613.33,340.12 L613.70,340.71 L614.07,341.31 L614.43,341.92 L614.80,342.54 L615.17,343.18 L615.53,343.83 L615.90,344.50 L616.27,345.22 L616.63,345.95 L617.00,346.69 L617.37,347.43 L617.74,348.14 L618.10,348.82 L618.46,349.46 L618.82,350.06 L619.18,350.66 L619.54,351.25 L619.89,351.80 L620.25,352.32 L620.60,352.78 L620.96,353.19 L621.31,353.51 L621.66,353.76 L622.02,353.92 L622.37,354.01 L622.72,354.06 L623.07,354.07 L623.42,354.06 L623.79,354.05 L624.16,354.04 L624.54,354.04 L624.94,354.05 L625.34,354.04 L625.75,354.02 L626.16,353.97 L626.56,353.87 L626.96,353.72 L627.33,353.51 L627.70,353.24 L628.06,352.90 L628.41,352.52 L628.75,352.09 L629.09,351.63 L629.43,351.14 L629.76,350.63 L630.10,350.11 L630.44,349.57 L630.78,349.00 L631.11,348.41 L631.45,347.79 L631.78,347.16 L632.11,346.50 L632.45,345.82 L632.79,345.14 L633.13,344.42 L633.47,343.68 L633.81,342.91 L634.15,342.13 L634.50,341.33 L634.85,340.54 L635.20,339.75 L635.56,338.98 L635.92,338.22 L636.29,337.45 L636.67,336.68 L637.05,335.91 L637.43,335.15 L637.81,334.40 L638.19,333.67 L638.57,332.96 L638.94,332.28 L639.31,331.62 L639.67,330.98 L640.04,330.35 L640.40,329.73 L640.77,329.11 L641.13,328.49 L641.50,327.86 L641.87,327.23 L642.25,326.62 L642.63,326.01 L643.01,325.40 L643.39,324.78 L643.75,324.14 L644.10,323.47 L644.43,322.75 L644.73,322.02 L645.02,321.28 L645.29,320.53 L645.54,319.75 L645.79,318.93 L646.04,318.05 L646.29,317.10 L646.54,316.08 L646.80,314.94 L647.07,313.68 L647.32,312.35 L647.58,310.96 L647.84,309.56 L648.09,308.18 L648.34,306.85 L648.58,305.60 L648.81,304.43 L649.03,303.31 L649.23,302.22 L649.44,301.15 L649.65,300.10 L649.87,299.06 L650.11,298.02 L650.37,296.96 L650.66,295.83 L650.99,294.58 L651.33,293.29 L651.68,292.03 L652.03,290.86 L652.37,289.86 L652.69,289.07 L652.98,288.59 L653.23,288.41 L653.47,288.49 L653.69,288.78 L653.90,289.24 L654.10,289.82 L654.29,290.48 L654.49,291.18 L654.68,291.86 L654.88,292.55 L655.05,293.31 L655.22,294.12 L655.38,295.00 L655.56,295.95 L655.75,296.96 L655.97,298.04 L656.23,299.19 L656.53,300.44 L656.87,301.80 L657.24,303.25 L657.62,304.76 L658.01,306.30 L658.41,307.84 L658.79,309.37 L659.16,310.84 L659.51,312.27 L659.86,313.69 L660.20,315.10 L660.54,316.50 L660.88,317.91 L661.22,319.33 L661.57,320.77 L661.93,322.23 L662.30,323.71 L662.68,325.22 L663.07,326.74 L663.46,328.27 L663.85,329.81 L664.24,331.35 L664.63,332.88 L665.02,334.40 L665.43,335.95 L665.85,337.54 L666.28,339.15 L666.71,340.74 L667.12,342.30 L667.50,343.79 L667.84,345.18 L668.12,346.44 L668.30,347.61 L668.40,348.72 L668.45,349.76 L668.46,350.72 L668.49,351.59 L668.55,352.35 L668.69,353.00 L668.93,353.51 L669.31,353.86 L669.81,354.04 L670.40,354.08 L671.02,354.02 L671.63,353.91 L672.19,353.78 L672.66,353.68 L673.00,353.64" fill="none" stroke="#1515ee" stroke-width="1.5" stroke-linejoin="round" clip-path="url(#ce)"/>
<path d="M510.20,282.04 L510.40,353.64 L541.29,353.64 L541.44,353.24 L541.58,352.69 L541.72,352.14 L541.86,351.69 L542.01,351.39 L542.15,351.29 L542.29,351.39 L542.43,351.69 L542.58,352.14 L542.72,352.69 L542.86,353.24 L543.00,353.64 L588.51,353.64 L588.75,351.50 L589.00,348.59 L589.24,345.72 L589.48,343.33 L589.73,341.76 L589.97,341.21 L590.22,341.76 L590.46,343.33 L590.70,345.72 L590.95,348.59 L591.19,351.50 L591.44,353.64 L623.02,353.64 L623.22,353.28 L623.41,352.79 L623.61,352.31 L623.81,351.91 L624.00,351.64 L624.20,351.55 L624.40,351.64 L624.59,351.91 L624.79,352.31 L624.99,352.79 L625.18,353.28 L625.38,353.64 L670.23,353.64 L670.45,351.66 L670.67,348.97 L670.88,346.30 L671.10,344.09 L671.32,342.63 L671.53,342.13 L671.75,342.63 L671.97,344.09 L672.19,346.30 L672.40,348.97 L672.62,351.66 L672.84,353.64 L673.00,353.64" fill="none" stroke="#77ac30" stroke-width="1.3" stroke-linejoin="round" clip-path="url(#ce)"/>
<clipPath id="ce2"><rect x="506" y="228" width="171" height="139"/></clipPath>
<g clip-path="url(#ce2)"><circle cx="515.57" cy="314.91" r="1.45" fill="#0072bd"/><circle cx="521.39" cy="324.86" r="1.45" fill="#0072bd"/><circle cx="527.21" cy="314.58" r="1.45" fill="#0072bd"/><circle cx="533.03" cy="318.46" r="1.45" fill="#0072bd"/><circle cx="538.85" cy="320.10" r="1.45" fill="#0072bd"/><circle cx="544.67" cy="316.25" r="1.45" fill="#0072bd"/><circle cx="550.49" cy="307.24" r="1.45" fill="#0072bd"/><circle cx="556.31" cy="292.75" r="1.45" fill="#0072bd"/><circle cx="562.13" cy="296.40" r="1.45" fill="#0072bd"/><circle cx="567.95" cy="291.55" r="1.45" fill="#0072bd"/><circle cx="573.77" cy="288.51" r="1.45" fill="#0072bd"/><circle cx="579.59" cy="302.43" r="1.45" fill="#0072bd"/><circle cx="585.41" cy="315.74" r="1.45" fill="#0072bd"/><circle cx="591.23" cy="338.77" r="1.45" fill="#0072bd"/><circle cx="597.05" cy="326.74" r="1.45" fill="#0072bd"/><circle cx="602.87" cy="327.57" r="1.45" fill="#0072bd"/><circle cx="608.69" cy="314.28" r="1.45" fill="#0072bd"/><circle cx="614.51" cy="319.25" r="1.45" fill="#0072bd"/><circle cx="620.33" cy="320.37" r="1.45" fill="#0072bd"/><circle cx="626.15" cy="315.78" r="1.45" fill="#0072bd"/><circle cx="631.97" cy="308.02" r="1.45" fill="#0072bd"/><circle cx="637.79" cy="292.83" r="1.45" fill="#0072bd"/><circle cx="643.61" cy="289.87" r="1.45" fill="#0072bd"/><circle cx="649.43" cy="290.07" r="1.45" fill="#0072bd"/><circle cx="655.25" cy="290.30" r="1.45" fill="#0072bd"/><circle cx="661.07" cy="300.87" r="1.45" fill="#0072bd"/><circle cx="666.89" cy="314.42" r="1.45" fill="#0072bd"/><circle cx="672.72" cy="348.28" r="1.45" fill="#0072bd"/></g>
<g clip-path="url(#ce2)"><circle cx="510.20" cy="232.30" r="1.45" fill="#e8642a"/><circle cx="527.38" cy="296.96" r="1.45" fill="#e8642a"/><circle cx="533.24" cy="304.03" r="1.45" fill="#e8642a"/><circle cx="539.10" cy="316.69" r="1.45" fill="#e8642a"/><circle cx="544.96" cy="335.10" r="1.45" fill="#e8642a"/><circle cx="550.82" cy="348.74" r="1.45" fill="#e8642a"/><circle cx="556.68" cy="354.30" r="1.45" fill="#e8642a"/><circle cx="562.54" cy="348.15" r="1.45" fill="#e8642a"/><circle cx="568.40" cy="354.30" r="1.45" fill="#e8642a"/><circle cx="574.26" cy="345.65" r="1.45" fill="#e8642a"/><circle cx="580.12" cy="331.27" r="1.45" fill="#e8642a"/><circle cx="585.98" cy="302.26" r="1.45" fill="#e8642a"/><circle cx="591.84" cy="290.07" r="1.45" fill="#e8642a"/><circle cx="597.70" cy="291.60" r="1.45" fill="#e8642a"/><circle cx="603.57" cy="296.32" r="1.45" fill="#e8642a"/><circle cx="609.43" cy="291.47" r="1.45" fill="#e8642a"/><circle cx="615.29" cy="304.14" r="1.45" fill="#e8642a"/><circle cx="621.15" cy="317.39" r="1.45" fill="#e8642a"/><circle cx="627.01" cy="336.51" r="1.45" fill="#e8642a"/><circle cx="632.87" cy="351.02" r="1.45" fill="#e8642a"/><circle cx="638.73" cy="354.03" r="1.45" fill="#e8642a"/><circle cx="644.59" cy="341.27" r="1.45" fill="#e8642a"/><circle cx="650.45" cy="354.16" r="1.45" fill="#e8642a"/><circle cx="656.31" cy="339.03" r="1.45" fill="#e8642a"/><circle cx="662.17" cy="331.53" r="1.45" fill="#e8642a"/><circle cx="668.03" cy="302.23" r="1.45" fill="#e8642a"/><circle cx="673.90" cy="295.13" r="1.45" fill="#e8642a"/></g>
<g clip-path="url(#ce2)"><circle cx="510.20" cy="353.78" r="1.85" fill="none" stroke="#1515ee" stroke-width="1.1"/><circle cx="515.98" cy="323.67" r="1.85" fill="none" stroke="#1515ee" stroke-width="1.1"/><circle cx="521.60" cy="330.47" r="1.85" fill="none" stroke="#1515ee" stroke-width="1.1"/><circle cx="527.54" cy="333.62" r="1.85" fill="none" stroke="#1515ee" stroke-width="1.1"/><circle cx="533.24" cy="342.65" r="1.85" fill="none" stroke="#1515ee" stroke-width="1.1"/><circle cx="539.02" cy="353.78" r="1.85" fill="none" stroke="#1515ee" stroke-width="1.1"/><circle cx="544.88" cy="353.78" r="1.85" fill="none" stroke="#1515ee" stroke-width="1.1"/><circle cx="550.90" cy="345.79" r="1.85" fill="none" stroke="#1515ee" stroke-width="1.1"/><circle cx="557.09" cy="333.22" r="1.85" fill="none" stroke="#1515ee" stroke-width="1.1"/><circle cx="562.78" cy="323.93" r="1.85" fill="none" stroke="#1515ee" stroke-width="1.1"/><circle cx="568.56" cy="299.71" r="1.85" fill="none" stroke="#1515ee" stroke-width="1.1"/><circle cx="574.42" cy="297.23" r="1.85" fill="none" stroke="#1515ee" stroke-width="1.1"/><circle cx="580.12" cy="320.40" r="1.85" fill="none" stroke="#1515ee" stroke-width="1.1"/><circle cx="586.06" cy="341.60" r="1.85" fill="none" stroke="#1515ee" stroke-width="1.1"/><circle cx="591.27" cy="353.64" r="1.85" fill="none" stroke="#1515ee" stroke-width="1.1"/><circle cx="597.79" cy="337.02" r="1.85" fill="none" stroke="#1515ee" stroke-width="1.1"/><circle cx="603.73" cy="333.88" r="1.85" fill="none" stroke="#1515ee" stroke-width="1.1"/><circle cx="609.67" cy="334.93" r="1.85" fill="none" stroke="#1515ee" stroke-width="1.1"/><circle cx="615.53" cy="343.83" r="1.85" fill="none" stroke="#1515ee" stroke-width="1.1"/><circle cx="621.31" cy="353.51" r="1.85" fill="none" stroke="#1515ee" stroke-width="1.1"/><circle cx="627.33" cy="353.51" r="1.85" fill="none" stroke="#1515ee" stroke-width="1.1"/><circle cx="632.79" cy="345.14" r="1.85" fill="none" stroke="#1515ee" stroke-width="1.1"/><circle cx="638.57" cy="332.96" r="1.85" fill="none" stroke="#1515ee" stroke-width="1.1"/><circle cx="644.43" cy="322.75" r="1.85" fill="none" stroke="#1515ee" stroke-width="1.1"/><circle cx="650.37" cy="296.96" r="1.85" fill="none" stroke="#1515ee" stroke-width="1.1"/><circle cx="656.23" cy="299.19" r="1.85" fill="none" stroke="#1515ee" stroke-width="1.1"/><circle cx="661.93" cy="322.23" r="1.85" fill="none" stroke="#1515ee" stroke-width="1.1"/><circle cx="668.12" cy="346.44" r="1.85" fill="none" stroke="#1515ee" stroke-width="1.1"/></g>
<rect x="568.4" y="242.2" width="96.4" height="31.5" fill="#fff" stroke="#c8c8c8" stroke-width="0.8"/>
<line x1="570.20" y1="247.40" x2="585.40" y2="247.40" stroke="#0072bd" stroke-width="1.3"/>
<circle cx="577.8" cy="247.4" r="1.45" fill="#0072bd"/>
<text x="586.8" y="250.2" font-family='"Liberation Serif", serif' font-size="8.6" text-anchor="start" font-weight="normal" fill="#333333" textLength="27.2" lengthAdjust="spacingAndGlyphs">Cable 1</text>
<line x1="570.20" y1="257.80" x2="585.40" y2="257.80" stroke="#e8642a" stroke-width="1.3"/>
<circle cx="577.8" cy="257.8" r="1.45" fill="#e8642a"/>
<text x="586.8" y="260.6" font-family='"Liberation Serif", serif' font-size="8.6" text-anchor="start" font-weight="normal" fill="#333333" textLength="27.2" lengthAdjust="spacingAndGlyphs">Cable 2</text>
<line x1="570.20" y1="267.60" x2="585.40" y2="267.60" stroke="#edb120" stroke-width="1.3"/>
<text x="586.8" y="270.4" font-family='"Liberation Serif", serif' font-size="8.6" text-anchor="start" font-weight="normal" fill="#333333" textLength="27.2" lengthAdjust="spacingAndGlyphs">Cable 3</text>
<line x1="617.80" y1="247.40" x2="632.70" y2="247.40" stroke="#1515ee" stroke-width="1.5"/>
<circle cx="625.3" cy="247.4" r="2.3" fill="none" stroke="#1515ee" stroke-width="1.2"/>
<text x="634.5" y="250.2" font-family='"Liberation Serif", serif' font-size="8.6" text-anchor="start" font-weight="normal" fill="#333333" textLength="28" lengthAdjust="spacingAndGlyphs">Cable 4</text>
<line x1="617.80" y1="257.80" x2="632.70" y2="257.80" stroke="#77ac30" stroke-width="1.3"/>
<text x="634.5" y="260.6" font-family='"Liberation Serif", serif' font-size="8.6" text-anchor="start" font-weight="normal" fill="#333333" textLength="28" lengthAdjust="spacingAndGlyphs">Cable 5</text></svg></body></html>
